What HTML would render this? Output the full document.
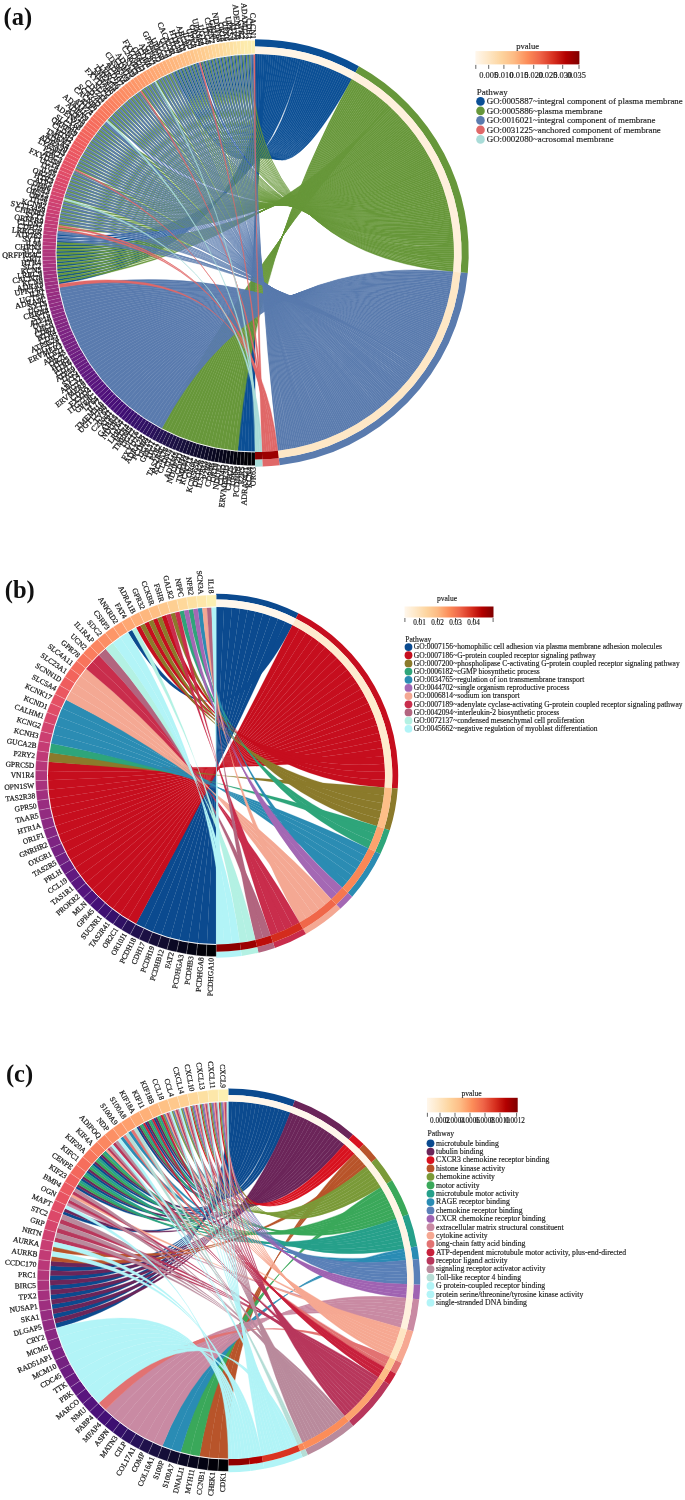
<!DOCTYPE html>
<html lang="en"><head><meta charset="utf-8"><title>Figure</title>
<style>html,body{margin:0;padding:0;background:#fff}svg{display:block}text{white-space:pre}</style></head><body>
<svg width="685" height="1500" viewBox="0 0 685 1500">
<rect width="685" height="1500" fill="#fff"/>
<defs><filter id="soft" x="0" y="0" width="685" height="1500" filterUnits="userSpaceOnUse" color-interpolation-filters="sRGB"><feGaussianBlur stdDeviation="0.6"/></filter></defs>
<g filter="url(#soft)">
<g>
<g>
<g fill="#0b4f95" stroke="#0b4f95" stroke-width="0.42">
<path d="M255 54Q255 253 255 452L251.53 451.97Q255 253 257.3 54.01Z"/>
<path d="M257.3 54.01Q255 253 251.53 451.97L248.06 451.88Q255 253 259.59 54.05Z"/>
<path d="M259.59 54.05Q255 253 248.06 451.88L244.59 451.73Q255 253 261.89 54.12Z"/>
<path d="M261.89 54.12Q255 253 244.59 451.73L241.12 451.52Q255 253 264.18 54.21Z"/>
<path d="M264.18 54.21Q255 253 241.12 451.52L237.66 451.24Q255 253 266.48 54.33Z"/>
<path d="M266.48 54.33Q255 253 58.45 284.13L58.19 282.41Q255 253 268.77 54.48Z"/>
<path d="M268.77 54.48Q255 253 57.94 280.7L57.7 278.97Q255 253 271.06 54.65Z"/>
<path d="M271.06 54.65Q255 253 57.48 277.25L57.28 275.53Q255 253 273.35 54.85Z"/>
<path d="M273.35 54.85Q255 253 57.09 273.8L56.92 272.07Q255 253 275.64 55.07Z"/>
<path d="M275.64 55.07Q255 253 56.76 270.34L56.61 268.61Q255 253 277.92 55.32Z"/>
<path d="M277.92 55.32Q255 253 56.48 266.88L56.37 265.15Q255 253 280.2 55.6Z"/>
<path d="M280.2 55.6Q255 253 56.27 263.41L56.19 261.68Q255 253 282.48 55.91Z"/>
<path d="M282.48 55.91Q255 253 56.12 259.94L56.07 258.21Q255 253 284.75 56.24Z"/>
<path d="M284.75 56.24Q255 253 56.03 256.47L56.01 254.74Q255 253 287.02 56.59Z"/>
<path d="M287.02 56.59Q255 253 56 253L56.01 251.26Q255 253 289.28 56.98Z"/>
<path d="M289.28 56.98Q255 253 56.03 249.53L56.07 247.79Q255 253 291.54 57.38Z"/>
<path d="M291.54 57.38Q255 253 56.12 246.06L56.19 244.32Q255 253 293.8 57.82Z"/>
<path d="M293.8 57.82Q255 253 56.27 242.59L56.37 240.85Q255 253 296.05 58.28Z"/>
<path d="M296.05 58.28Q255 253 56.48 239.12L56.61 237.39Q255 253 298.29 58.77Z"/>
<path d="M298.29 58.77Q255 253 56.76 235.66L56.92 233.93Q255 253 300.53 59.28Z"/>
<path d="M300.53 59.28Q255 253 174.06 71.2L175.12 70.74Q255 253 302.77 59.82Z"/>
<path d="M302.77 59.82Q255 253 177.24 69.82L178.31 69.37Q255 253 304.99 60.38Z"/>
<path d="M304.99 60.38Q255 253 180.45 68.49L181.53 68.06Q255 253 307.21 60.97Z"/>
<path d="M307.21 60.97Q255 253 183.68 67.22L184.77 66.81Q255 253 309.43 61.59Z"/>
<path d="M309.43 61.59Q255 253 186.94 66L188.03 65.61Q255 253 311.63 62.23Z"/>
<path d="M311.63 62.23Q255 253 190.21 64.84L191.31 64.47Q255 253 313.83 62.89Z"/>
<path d="M313.83 62.89Q255 253 193.51 63.74L194.61 63.39Q255 253 316.02 63.59Z"/>
<path d="M316.02 63.59Q255 253 196.82 62.7L197.93 62.36Q255 253 318.2 64.3Z"/>
<path d="M318.2 64.3Q255 253 200.15 61.71L201.26 61.39Q255 253 320.38 65.05Z"/>
<path d="M320.38 65.05Q255 253 203.5 60.78L204.61 60.48Q255 253 322.54 65.81Z"/>
<path d="M322.54 65.81Q255 253 206.86 59.91L207.98 59.63Q255 253 324.7 66.6Z"/>
<path d="M324.7 66.6Q255 253 210.23 59.1L211.36 58.84Q255 253 326.85 67.42Z"/>
<path d="M326.85 67.42Q255 253 213.63 58.35L214.76 58.11Q255 253 328.98 68.26Z"/>
<path d="M328.98 68.26Q255 253 217.03 57.66L218.17 57.44Q255 253 331.11 69.13Z"/>
<path d="M331.11 69.13Q255 253 220.44 57.02L221.58 56.83Q255 253 333.23 70.02Z"/>
<path d="M333.23 70.02Q255 253 223.87 56.45L225.01 56.27Q255 253 335.33 70.94Z"/>
<path d="M335.33 70.94Q255 253 227.3 55.94L228.45 55.78Q255 253 337.43 71.88Z"/>
<path d="M337.43 71.88Q255 253 230.75 55.48L231.9 55.35Q255 253 339.52 72.84Z"/>
<path d="M339.52 72.84Q255 253 234.2 55.09L235.35 54.97Q255 253 341.59 73.83Z"/>
<path d="M341.59 73.83Q255 253 237.66 54.76L238.81 54.66Q255 253 343.65 74.84Z"/>
<path d="M343.65 74.84Q255 253 241.12 54.48L242.27 54.41Q255 253 345.7 75.87Z"/>
<path d="M345.7 75.87Q255 253 244.59 54.27L245.74 54.22Q255 253 347.74 76.93Z"/>
<path d="M347.74 76.93Q255 253 248.06 54.12L249.21 54.08Q255 253 349.77 78.01Z"/>
<path d="M349.77 78.01Q255 253 251.53 54.03L252.68 54.01Q255 253 351.78 79.12Z"/>
</g>
<g fill="#67973a" stroke="#67973a" stroke-width="0.42">
<path d="M351.78 79.12Q255 253 237.66 451.24L234.2 450.91Q255 253 353.53 80.1Z"/>
<path d="M353.53 80.1Q255 253 234.2 450.91L230.75 450.52Q255 253 355.26 81.1Z"/>
<path d="M355.26 81.1Q255 253 230.75 450.52L227.3 450.06Q255 253 356.98 82.12Z"/>
<path d="M356.98 82.12Q255 253 227.3 450.06L223.87 449.55Q255 253 358.7 83.15Z"/>
<path d="M358.7 83.15Q255 253 223.87 449.55L220.44 448.98Q255 253 360.4 84.21Z"/>
<path d="M360.4 84.21Q255 253 220.44 448.98L217.03 448.34Q255 253 362.1 85.28Z"/>
<path d="M362.1 85.28Q255 253 217.03 448.34L213.63 447.65Q255 253 363.78 86.36Z"/>
<path d="M363.78 86.36Q255 253 213.63 447.65L210.23 446.9Q255 253 365.45 87.46Z"/>
<path d="M365.45 87.46Q255 253 210.23 446.9L206.86 446.09Q255 253 367.11 88.58Z"/>
<path d="M367.11 88.58Q255 253 206.86 446.09L203.5 445.22Q255 253 368.76 89.72Z"/>
<path d="M368.76 89.72Q255 253 203.5 445.22L200.15 444.29Q255 253 370.4 90.87Z"/>
<path d="M370.4 90.87Q255 253 200.15 444.29L196.82 443.3Q255 253 372.02 92.04Z"/>
<path d="M372.02 92.04Q255 253 196.82 443.3L193.51 442.26Q255 253 373.63 93.23Z"/>
<path d="M373.63 93.23Q255 253 193.51 442.26L190.21 441.16Q255 253 375.24 94.43Z"/>
<path d="M375.24 94.43Q255 253 190.21 441.16L186.94 440Q255 253 376.83 95.65Z"/>
<path d="M376.83 95.65Q255 253 186.94 440L183.68 438.78Q255 253 378.4 96.88Z"/>
<path d="M378.4 96.88Q255 253 183.68 438.78L180.45 437.51Q255 253 379.97 98.13Z"/>
<path d="M379.97 98.13Q255 253 180.45 437.51L177.24 436.18Q255 253 381.52 99.4Z"/>
<path d="M381.52 99.4Q255 253 177.24 436.18L174.06 434.8Q255 253 383.06 100.68Z"/>
<path d="M383.06 100.68Q255 253 174.06 434.8L170.9 433.36Q255 253 384.58 101.97Z"/>
<path d="M384.58 101.97Q255 253 170.9 433.36L167.76 431.86Q255 253 386.1 103.29Z"/>
<path d="M386.1 103.29Q255 253 167.76 431.86L164.66 430.31Q255 253 387.6 104.61Z"/>
<path d="M387.6 104.61Q255 253 164.66 430.31L161.58 428.71Q255 253 389.08 105.95Z"/>
<path d="M389.08 105.95Q255 253 58.19 282.41L57.94 280.7Q255 253 390.56 107.31Z"/>
<path d="M390.56 107.31Q255 253 57.7 278.97L57.48 277.25Q255 253 392.02 108.68Z"/>
<path d="M392.02 108.68Q255 253 57.28 275.53L57.09 273.8Q255 253 393.46 110.07Z"/>
<path d="M393.46 110.07Q255 253 56.92 272.07L56.76 270.34Q255 253 394.89 111.47Z"/>
<path d="M394.89 111.47Q255 253 56.61 268.61L56.48 266.88Q255 253 396.31 112.88Z"/>
<path d="M396.31 112.88Q255 253 56.37 265.15L56.27 263.41Q255 253 397.71 114.31Z"/>
<path d="M397.71 114.31Q255 253 56.19 261.68L56.12 259.94Q255 253 399.1 115.75Z"/>
<path d="M399.1 115.75Q255 253 56.07 258.21L56.03 256.47Q255 253 400.47 117.21Z"/>
<path d="M400.47 117.21Q255 253 56.01 254.74L56 253Q255 253 401.83 118.68Z"/>
<path d="M401.83 118.68Q255 253 56.01 251.26L56.03 249.53Q255 253 403.18 120.17Z"/>
<path d="M403.18 120.17Q255 253 56.07 247.79L56.12 246.06Q255 253 404.51 121.66Z"/>
<path d="M404.51 121.66Q255 253 56.19 244.32L56.27 242.59Q255 253 405.82 123.18Z"/>
<path d="M405.82 123.18Q255 253 57.48 228.75L57.7 227.03Q255 253 407.12 124.7Z"/>
<path d="M407.12 124.7Q255 253 57.94 225.3L58.19 223.59Q255 253 408.4 126.24Z"/>
<path d="M408.4 126.24Q255 253 58.45 221.87L58.73 220.16Q255 253 409.67 127.79Z"/>
<path d="M409.67 127.79Q255 253 59.02 218.44L59.33 216.74Q255 253 410.92 129.35Z"/>
<path d="M410.92 129.35Q255 253 59.66 215.03L59.99 213.33Q255 253 412.16 130.92Z"/>
<path d="M412.16 130.92Q255 253 60.35 211.63L60.72 209.93Q255 253 413.38 132.51Z"/>
<path d="M413.38 132.51Q255 253 61.1 208.23L61.5 206.54Q255 253 414.58 134.11Z"/>
<path d="M414.58 134.11Q255 253 61.91 204.86L62.34 203.17Q255 253 415.77 135.72Z"/>
<path d="M415.77 135.72Q255 253 62.78 201.5L63.24 199.82Q255 253 416.94 137.35Z"/>
<path d="M416.94 137.35Q255 253 63.71 198.15L64.19 196.48Q255 253 418.1 138.98Z"/>
<path d="M418.1 138.98Q255 253 64.7 194.82L65.21 193.16Q255 253 419.24 140.63Z"/>
<path d="M419.24 140.63Q255 253 65.74 191.51L66.28 189.86Q255 253 420.36 142.29Z"/>
<path d="M420.36 142.29Q255 253 66.84 188.21L67.41 186.57Q255 253 421.46 143.96Z"/>
<path d="M421.46 143.96Q255 253 68 184.94L68.6 183.31Q255 253 422.55 145.64Z"/>
<path d="M422.55 145.64Q255 253 69.22 181.68L69.85 180.07Q255 253 423.63 147.33Z"/>
<path d="M423.63 147.33Q255 253 70.49 178.45L71.15 176.85Q255 253 424.68 149.03Z"/>
<path d="M424.68 149.03Q255 253 71.82 175.24L72.51 173.65Q255 253 425.72 150.74Z"/>
<path d="M425.72 150.74Q255 253 73.2 172.06L73.68 171Q255 253 426.74 152.47Z"/>
<path d="M426.74 152.47Q255 253 74.64 168.9L75.39 167.33Q255 253 427.74 154.2Z"/>
<path d="M427.74 154.2Q255 253 76.14 165.76L76.91 164.21Q255 253 428.73 155.94Z"/>
<path d="M428.73 155.94Q255 253 77.69 162.66L78.48 161.11Q255 253 429.69 157.7Z"/>
<path d="M429.69 157.7Q255 253 79.29 159.58L80.12 158.05Q255 253 430.64 159.46Z"/>
<path d="M430.64 159.46Q255 253 80.95 156.52L81.8 155.01Q255 253 431.58 161.23Z"/>
<path d="M431.58 161.23Q255 253 82.66 153.5L83.54 152Q255 253 432.49 163.01Z"/>
<path d="M432.49 163.01Q255 253 84.42 150.51L85.32 149.02Q255 253 433.39 164.8Z"/>
<path d="M433.39 164.8Q255 253 86.24 147.55L87.17 146.08Q255 253 434.27 166.6Z"/>
<path d="M434.27 166.6Q255 253 88.1 144.62L89.06 143.16Q255 253 435.13 168.41Z"/>
<path d="M435.13 168.41Q255 253 90.02 141.72L91 140.29Q255 253 435.97 170.23Z"/>
<path d="M435.97 170.23Q255 253 91.99 138.86L92.99 137.44Q255 253 436.79 172.05Z"/>
<path d="M436.79 172.05Q255 253 94.01 136.03L95.03 134.63Q255 253 437.6 173.88Z"/>
<path d="M437.6 173.88Q255 253 96.07 133.24L97.12 131.86Q255 253 438.38 175.73Z"/>
<path d="M438.38 175.73Q255 253 98.19 130.48L99.26 129.12Q255 253 439.15 177.57Z"/>
<path d="M439.15 177.57Q255 253 100.35 127.77L101.45 126.42Q255 253 439.9 179.43Z"/>
<path d="M439.9 179.43Q255 253 102.56 125.09L103.68 123.76Q255 253 440.63 181.3Z"/>
<path d="M440.63 181.3Q255 253 107.11 119.84L108.28 118.56Q255 253 441.34 183.17Z"/>
<path d="M441.34 183.17Q255 253 109.46 117.28L110.65 116.02Q255 253 442.04 185.05Z"/>
<path d="M442.04 185.05Q255 253 111.85 114.76L113.06 113.52Q255 253 442.71 186.93Z"/>
<path d="M442.71 186.93Q255 253 114.29 112.29L115.52 111.06Q255 253 443.37 188.82Z"/>
<path d="M443.37 188.82Q255 253 116.76 109.85L118.02 108.65Q255 253 444 190.72Z"/>
<path d="M444 190.72Q255 253 119.28 107.46L120.56 106.28Q255 253 444.62 192.63Z"/>
<path d="M444.62 192.63Q255 253 121.84 105.11L123.14 103.96Q255 253 445.22 194.54Z"/>
<path d="M445.22 194.54Q255 253 124.44 102.81L125.76 101.68Q255 253 445.8 196.45Z"/>
<path d="M445.8 196.45Q255 253 127.09 100.56L128.42 99.45Q255 253 446.36 198.38Z"/>
<path d="M446.36 198.38Q255 253 129.77 98.35L131.12 97.26Q255 253 446.9 200.31Z"/>
<path d="M446.9 200.31Q255 253 132.48 96.19L133.86 95.12Q255 253 447.42 202.24Z"/>
<path d="M447.42 202.24Q255 253 135.24 94.07L136.63 93.03Q255 253 447.92 204.18Z"/>
<path d="M447.92 204.18Q255 253 138.03 92.01L138.97 91.33Q255 253 448.4 206.12Z"/>
<path d="M448.4 206.12Q255 253 140.86 89.99L142.29 89Q255 253 448.86 208.07Z"/>
<path d="M448.86 208.07Q255 253 143.72 88.02L145.16 87.06Q255 253 449.3 210.02Z"/>
<path d="M449.3 210.02Q255 253 146.62 86.1L148.08 85.17Q255 253 449.73 211.98Z"/>
<path d="M449.73 211.98Q255 253 149.55 84.24L151.02 83.32Q255 253 450.13 213.94Z"/>
<path d="M450.13 213.94Q255 253 152.51 82.42L153.5 81.83Q255 253 450.51 215.91Z"/>
<path d="M450.51 215.91Q255 253 155.5 80.66L157.01 79.8Q255 253 450.88 217.88Z"/>
<path d="M450.88 217.88Q255 253 158.52 78.95L160.05 78.12Q255 253 451.22 219.85Z"/>
<path d="M451.22 219.85Q255 253 161.58 77.29L163.11 76.48Q255 253 451.54 221.82Z"/>
<path d="M451.54 221.82Q255 253 164.66 75.69L166.21 74.91Q255 253 451.85 223.8Z"/>
<path d="M451.85 223.8Q255 253 167.76 74.14L169.33 73.39Q255 253 452.13 225.79Z"/>
<path d="M452.13 225.79Q255 253 170.9 72.64L172.48 71.92Q255 253 452.39 227.77Z"/>
<path d="M452.39 227.77Q255 253 175.12 70.74L176.18 70.27Q255 253 452.64 229.76Z"/>
<path d="M452.64 229.76Q255 253 178.31 69.37L179.38 68.93Q255 253 452.86 231.75Z"/>
<path d="M452.86 231.75Q255 253 181.53 68.06L182.61 67.64Q255 253 453.07 233.74Z"/>
<path d="M453.07 233.74Q255 253 184.77 66.81L185.85 66.4Q255 253 453.25 235.73Z"/>
<path d="M453.25 235.73Q255 253 188.03 65.61L189.12 65.22Q255 253 453.41 237.73Z"/>
<path d="M453.41 237.73Q255 253 191.31 64.47L192.41 64.1Q255 253 453.56 239.73Z"/>
<path d="M453.56 239.73Q255 253 194.61 63.39L195.71 63.04Q255 253 453.68 241.73Z"/>
<path d="M453.68 241.73Q255 253 201.26 61.39L202.38 61.08Q255 253 453.78 243.73Z"/>
<path d="M453.78 243.73Q255 253 204.61 60.48L205.74 60.19Q255 253 453.87 245.73Z"/>
<path d="M453.87 245.73Q255 253 207.98 59.63L209.11 59.36Q255 253 453.93 247.73Z"/>
<path d="M453.93 247.73Q255 253 211.36 58.84L212.49 58.59Q255 253 453.97 249.73Z"/>
<path d="M453.97 249.73Q255 253 214.76 58.11L215.89 57.88Q255 253 454 251.73Z"/>
<path d="M454 251.73Q255 253 218.17 57.44L219.3 57.23Q255 253 454 253.73Z"/>
<path d="M454 253.73Q255 253 221.58 56.83L222.73 56.63Q255 253 453.98 255.74Z"/>
<path d="M453.98 255.74Q255 253 225.01 56.27L226.16 56.1Q255 253 453.94 257.74Z"/>
<path d="M453.94 257.74Q255 253 228.45 55.78L229.6 55.63Q255 253 453.89 259.74Z"/>
<path d="M453.89 259.74Q255 253 231.9 55.35L233.05 55.21Q255 253 453.81 261.74Z"/>
<path d="M453.81 261.74Q255 253 235.35 54.97L236.5 54.86Q255 253 453.71 263.74Z"/>
<path d="M453.71 263.74Q255 253 238.81 54.66L239.96 54.57Q255 253 453.59 265.74Z"/>
<path d="M453.59 265.74Q255 253 242.27 54.41L243.43 54.34Q255 253 453.45 267.74Z"/>
<path d="M453.45 267.74Q255 253 245.74 54.22L246.9 54.16Q255 253 453.3 269.73Z"/>
<path d="M453.3 269.73Q255 253 249.21 54.08L250.37 54.05Q255 253 453.12 271.73Z"/>
</g>
<g fill="#5a7bae" stroke="#5a7bae" stroke-width="0.42">
<path d="M453.12 271.73Q255 253 161.58 428.71L158.52 427.05Q255 253 452.92 273.7Z"/>
<path d="M452.92 273.7Q255 253 158.52 427.05L155.5 425.34Q255 253 452.71 275.66Z"/>
<path d="M452.71 275.66Q255 253 155.5 425.34L152.51 423.58Q255 253 452.47 277.62Z"/>
<path d="M452.47 277.62Q255 253 152.51 423.58L149.55 421.76Q255 253 452.22 279.59Z"/>
<path d="M452.22 279.59Q255 253 149.55 421.76L146.62 419.9Q255 253 451.94 281.54Z"/>
<path d="M451.94 281.54Q255 253 146.62 419.9L143.72 417.98Q255 253 451.65 283.5Z"/>
<path d="M451.65 283.5Q255 253 143.72 417.98L140.86 416.01Q255 253 451.34 285.45Z"/>
<path d="M451.34 285.45Q255 253 140.86 416.01L138.03 413.99Q255 253 451 287.4Z"/>
<path d="M451 287.4Q255 253 138.03 413.99L135.24 411.93Q255 253 450.65 289.35Z"/>
<path d="M450.65 289.35Q255 253 135.24 411.93L132.48 409.81Q255 253 450.28 291.29Z"/>
<path d="M450.28 291.29Q255 253 132.48 409.81L129.77 407.65Q255 253 449.89 293.23Z"/>
<path d="M449.89 293.23Q255 253 129.77 407.65L127.09 405.44Q255 253 449.48 295.16Z"/>
<path d="M449.48 295.16Q255 253 127.09 405.44L124.44 403.19Q255 253 449.05 297.09Z"/>
<path d="M449.05 297.09Q255 253 124.44 403.19L121.84 400.89Q255 253 448.61 299.02Z"/>
<path d="M448.61 299.02Q255 253 121.84 400.89L119.28 398.54Q255 253 448.14 300.94Z"/>
<path d="M448.14 300.94Q255 253 119.28 398.54L116.76 396.15Q255 253 447.65 302.86Z"/>
<path d="M447.65 302.86Q255 253 116.76 396.15L114.29 393.71Q255 253 447.15 304.77Z"/>
<path d="M447.15 304.77Q255 253 114.29 393.71L111.85 391.24Q255 253 446.62 306.68Z"/>
<path d="M446.62 306.68Q255 253 111.85 391.24L109.46 388.72Q255 253 446.08 308.58Z"/>
<path d="M446.08 308.58Q255 253 109.46 388.72L107.11 386.16Q255 253 445.52 310.47Z"/>
<path d="M445.52 310.47Q255 253 107.11 386.16L104.81 383.56Q255 253 444.94 312.36Z"/>
<path d="M444.94 312.36Q255 253 104.81 383.56L102.56 380.91Q255 253 444.34 314.25Z"/>
<path d="M444.34 314.25Q255 253 102.56 380.91L100.35 378.23Q255 253 443.72 316.13Z"/>
<path d="M443.72 316.13Q255 253 100.35 378.23L98.19 375.52Q255 253 443.09 318Z"/>
<path d="M443.09 318Q255 253 98.19 375.52L96.07 372.76Q255 253 442.43 319.86Z"/>
<path d="M442.43 319.86Q255 253 96.07 372.76L94.01 369.97Q255 253 441.76 321.72Z"/>
<path d="M441.76 321.72Q255 253 94.01 369.97L91.99 367.14Q255 253 441.06 323.58Z"/>
<path d="M441.06 323.58Q255 253 91.99 367.14L90.02 364.28Q255 253 440.35 325.42Z"/>
<path d="M440.35 325.42Q255 253 90.02 364.28L88.1 361.38Q255 253 439.63 327.26Z"/>
<path d="M439.63 327.26Q255 253 88.1 361.38L86.24 358.45Q255 253 438.88 329.09Z"/>
<path d="M438.88 329.09Q255 253 86.24 358.45L84.42 355.49Q255 253 438.11 330.91Z"/>
<path d="M438.11 330.91Q255 253 84.42 355.49L82.66 352.5Q255 253 437.33 332.73Z"/>
<path d="M437.33 332.73Q255 253 82.66 352.5L80.95 349.48Q255 253 436.53 334.54Z"/>
<path d="M436.53 334.54Q255 253 80.95 349.48L79.29 346.42Q255 253 435.71 336.34Z"/>
<path d="M435.71 336.34Q255 253 79.29 346.42L77.69 343.34Q255 253 434.87 338.13Z"/>
<path d="M434.87 338.13Q255 253 77.69 343.34L76.14 340.24Q255 253 434.02 339.91Z"/>
<path d="M434.02 339.91Q255 253 76.14 340.24L74.64 337.1Q255 253 433.15 341.69Z"/>
<path d="M433.15 341.69Q255 253 74.64 337.1L73.2 333.94Q255 253 432.26 343.45Z"/>
<path d="M432.26 343.45Q255 253 73.2 333.94L71.82 330.76Q255 253 431.35 345.21Z"/>
<path d="M431.35 345.21Q255 253 71.82 330.76L70.49 327.55Q255 253 430.42 346.96Z"/>
<path d="M430.42 346.96Q255 253 70.49 327.55L69.22 324.32Q255 253 429.48 348.7Z"/>
<path d="M429.48 348.7Q255 253 69.22 324.32L68 321.06Q255 253 428.52 350.42Z"/>
<path d="M428.52 350.42Q255 253 68 321.06L66.84 317.79Q255 253 427.54 352.14Z"/>
<path d="M427.54 352.14Q255 253 66.84 317.79L65.74 314.49Q255 253 426.55 353.85Z"/>
<path d="M426.55 353.85Q255 253 65.74 314.49L64.7 311.18Q255 253 425.54 355.55Z"/>
<path d="M425.54 355.55Q255 253 64.7 311.18L63.71 307.85Q255 253 424.51 357.24Z"/>
<path d="M424.51 357.24Q255 253 63.71 307.85L62.78 304.5Q255 253 423.47 358.92Z"/>
<path d="M423.47 358.92Q255 253 62.78 304.5L61.91 301.14Q255 253 422.41 360.59Z"/>
<path d="M422.41 360.59Q255 253 61.91 301.14L61.1 297.77Q255 253 421.33 362.25Z"/>
<path d="M421.33 362.25Q255 253 61.1 297.77L60.35 294.37Q255 253 420.24 363.9Z"/>
<path d="M420.24 363.9Q255 253 60.35 294.37L59.66 290.97Q255 253 419.13 365.53Z"/>
<path d="M419.13 365.53Q255 253 59.66 290.97L59.02 287.56Q255 253 418 367.16Z"/>
<path d="M418 367.16Q255 253 56.37 240.85L56.48 239.12Q255 253 416.86 368.77Z"/>
<path d="M416.86 368.77Q255 253 56.61 237.39L56.76 235.66Q255 253 415.7 370.37Z"/>
<path d="M415.7 370.37Q255 253 56.92 233.93L57.09 232.2Q255 253 414.52 371.97Z"/>
<path d="M414.52 371.97Q255 253 57.09 232.2L57.28 230.47Q255 253 413.33 373.55Z"/>
<path d="M413.33 373.55Q255 253 58.19 223.59L58.45 221.87Q255 253 412.13 375.11Z"/>
<path d="M412.13 375.11Q255 253 58.73 220.16L59.02 218.44Q255 253 410.91 376.67Z"/>
<path d="M410.91 376.67Q255 253 59.33 216.74L59.66 215.03Q255 253 409.67 378.21Z"/>
<path d="M409.67 378.21Q255 253 59.99 213.33L60.35 211.63Q255 253 408.42 379.74Z"/>
<path d="M408.42 379.74Q255 253 60.72 209.93L61.1 208.23Q255 253 407.15 381.26Z"/>
<path d="M407.15 381.26Q255 253 61.5 206.54L61.91 204.86Q255 253 405.87 382.77Z"/>
<path d="M405.87 382.77Q255 253 62.34 203.17L62.78 201.5Q255 253 404.57 384.26Z"/>
<path d="M404.57 384.26Q255 253 64.19 196.48L64.7 194.82Q255 253 403.26 385.74Z"/>
<path d="M403.26 385.74Q255 253 65.21 193.16L65.74 191.51Q255 253 401.94 387.2Z"/>
<path d="M401.94 387.2Q255 253 66.28 189.86L66.84 188.21Q255 253 400.59 388.66Z"/>
<path d="M400.59 388.66Q255 253 67.41 186.57L68 184.94Q255 253 399.24 390.1Z"/>
<path d="M399.24 390.1Q255 253 68.6 183.31L69.22 181.68Q255 253 397.87 391.52Z"/>
<path d="M397.87 391.52Q255 253 69.85 180.07L70.49 178.45Q255 253 396.49 392.94Z"/>
<path d="M396.49 392.94Q255 253 71.15 176.85L71.82 175.24Q255 253 395.09 394.34Z"/>
<path d="M395.09 394.34Q255 253 72.51 173.65L73.2 172.06Q255 253 393.68 395.72Z"/>
<path d="M393.68 395.72Q255 253 73.68 171L74.16 169.95Q255 253 392.25 397.09Z"/>
<path d="M392.25 397.09Q255 253 75.39 167.33L76.14 165.76Q255 253 390.81 398.45Z"/>
<path d="M390.81 398.45Q255 253 76.91 164.21L77.69 162.66Q255 253 389.36 399.79Z"/>
<path d="M389.36 399.79Q255 253 78.48 161.11L79.29 159.58Q255 253 387.9 401.12Z"/>
<path d="M387.9 401.12Q255 253 80.12 158.05L80.95 156.52Q255 253 386.42 402.43Z"/>
<path d="M386.42 402.43Q255 253 81.8 155.01L82.66 153.5Q255 253 384.93 403.73Z"/>
<path d="M384.93 403.73Q255 253 83.54 152L84.42 150.51Q255 253 383.42 405.02Z"/>
<path d="M383.42 405.02Q255 253 85.32 149.02L86.24 147.55Q255 253 381.91 406.28Z"/>
<path d="M381.91 406.28Q255 253 87.17 146.08L88.1 144.62Q255 253 380.38 407.54Z"/>
<path d="M380.38 407.54Q255 253 89.06 143.16L90.02 141.72Q255 253 378.83 408.78Z"/>
<path d="M378.83 408.78Q255 253 91 140.29L91.99 138.86Q255 253 377.28 410Z"/>
<path d="M377.28 410Q255 253 92.99 137.44L94.01 136.03Q255 253 375.71 411.21Z"/>
<path d="M375.71 411.21Q255 253 95.03 134.63L96.07 133.24Q255 253 374.14 412.4Z"/>
<path d="M374.14 412.4Q255 253 97.12 131.86L98.19 130.48Q255 253 372.55 413.57Z"/>
<path d="M372.55 413.57Q255 253 99.26 129.12L100.35 127.77Q255 253 370.95 414.73Z"/>
<path d="M370.95 414.73Q255 253 101.45 126.42L102.56 125.09Q255 253 369.33 415.88Z"/>
<path d="M369.33 415.88Q255 253 103.68 123.76L104.81 122.44Q255 253 367.71 417.01Z"/>
<path d="M367.71 417.01Q255 253 104.81 122.44L105.96 121.14Q255 253 366.07 418.12Z"/>
<path d="M366.07 418.12Q255 253 108.28 118.56L109.46 117.28Q255 253 364.43 419.21Z"/>
<path d="M364.43 419.21Q255 253 110.65 116.02L111.85 114.76Q255 253 362.77 420.29Z"/>
<path d="M362.77 420.29Q255 253 113.06 113.52L114.29 112.29Q255 253 361.1 421.35Z"/>
<path d="M361.1 421.35Q255 253 115.52 111.06L116.76 109.85Q255 253 359.42 422.4Z"/>
<path d="M359.42 422.4Q255 253 118.02 108.65L119.28 107.46Q255 253 357.74 423.43Z"/>
<path d="M357.74 423.43Q255 253 120.56 106.28L121.84 105.11Q255 253 356.04 424.44Z"/>
<path d="M356.04 424.44Q255 253 123.14 103.96L124.44 102.81Q255 253 354.33 425.44Z"/>
<path d="M354.33 425.44Q255 253 125.76 101.68L127.09 100.56Q255 253 352.61 426.42Z"/>
<path d="M352.61 426.42Q255 253 128.42 99.45L129.77 98.35Q255 253 350.88 427.38Z"/>
<path d="M350.88 427.38Q255 253 131.12 97.26L132.48 96.19Q255 253 349.14 428.32Z"/>
<path d="M349.14 428.32Q255 253 133.86 95.12L135.24 94.07Q255 253 347.4 429.25Z"/>
<path d="M347.4 429.25Q255 253 136.63 93.03L138.03 92.01Q255 253 345.64 430.16Z"/>
<path d="M345.64 430.16Q255 253 138.97 91.33L139.91 90.66Q255 253 343.88 431.05Z"/>
<path d="M343.88 431.05Q255 253 142.29 89L143.72 88.02Q255 253 342.1 431.92Z"/>
<path d="M342.1 431.92Q255 253 145.16 87.06L146.62 86.1Q255 253 340.32 432.78Z"/>
<path d="M340.32 432.78Q255 253 148.08 85.17L149.55 84.24Q255 253 338.53 433.62Z"/>
<path d="M338.53 433.62Q255 253 151.02 83.32L152.51 82.42Q255 253 336.73 434.44Z"/>
<path d="M336.73 434.44Q255 253 153.5 81.83L154.5 81.24Q255 253 334.92 435.24Z"/>
<path d="M334.92 435.24Q255 253 157.01 79.8L158.52 78.95Q255 253 333.11 436.03Z"/>
<path d="M333.11 436.03Q255 253 160.05 78.12L161.58 77.29Q255 253 331.29 436.8Z"/>
<path d="M331.29 436.8Q255 253 163.11 76.48L164.66 75.69Q255 253 329.46 437.55Z"/>
<path d="M329.46 437.55Q255 253 166.21 74.91L167.76 74.14Q255 253 327.62 438.28Z"/>
<path d="M327.62 438.28Q255 253 169.33 73.39L170.9 72.64Q255 253 325.78 438.99Z"/>
<path d="M325.78 438.99Q255 253 172.48 71.92L174.06 71.2Q255 253 323.92 439.68Z"/>
<path d="M323.92 439.68Q255 253 176.18 70.27L177.24 69.82Q255 253 322.07 440.36Z"/>
<path d="M322.07 440.36Q255 253 179.38 68.93L180.45 68.49Q255 253 320.2 441.02Z"/>
<path d="M320.2 441.02Q255 253 182.61 67.64L183.68 67.22Q255 253 318.33 441.65Z"/>
<path d="M318.33 441.65Q255 253 185.85 66.4L186.94 66Q255 253 316.45 442.27Z"/>
<path d="M316.45 442.27Q255 253 189.12 65.22L190.21 64.84Q255 253 314.57 442.88Z"/>
<path d="M314.57 442.88Q255 253 192.41 64.1L193.51 63.74Q255 253 312.68 443.46Z"/>
<path d="M312.68 443.46Q255 253 195.71 63.04L196.82 62.7Q255 253 310.78 444.02Z"/>
<path d="M310.78 444.02Q255 253 197.93 62.36L199.04 62.03Q255 253 308.88 444.57Z"/>
<path d="M308.88 444.57Q255 253 202.38 61.08L203.5 60.78Q255 253 306.98 445.09Z"/>
<path d="M306.98 445.09Q255 253 205.74 60.19L206.86 59.91Q255 253 305.06 445.6Z"/>
<path d="M305.06 445.6Q255 253 209.11 59.36L210.23 59.1Q255 253 303.15 446.09Z"/>
<path d="M303.15 446.09Q255 253 212.49 58.59L213.63 58.35Q255 253 301.23 446.56Z"/>
<path d="M301.23 446.56Q255 253 215.89 57.88L217.03 57.66Q255 253 299.3 447.01Z"/>
<path d="M299.3 447.01Q255 253 219.3 57.23L220.44 57.02Q255 253 297.37 447.44Z"/>
<path d="M297.37 447.44Q255 253 222.73 56.63L223.87 56.45Q255 253 295.44 447.85Z"/>
<path d="M295.44 447.85Q255 253 226.16 56.1L227.3 55.94Q255 253 293.5 448.24Z"/>
<path d="M293.5 448.24Q255 253 229.6 55.63L230.75 55.48Q255 253 291.56 448.61Z"/>
<path d="M291.56 448.61Q255 253 233.05 55.21L234.2 55.09Q255 253 289.61 448.97Z"/>
<path d="M289.61 448.97Q255 253 236.5 54.86L237.66 54.76Q255 253 287.66 449.3Z"/>
<path d="M287.66 449.3Q255 253 239.96 54.57L241.12 54.48Q255 253 285.71 449.62Z"/>
<path d="M285.71 449.62Q255 253 243.43 54.34L244.59 54.27Q255 253 283.75 449.91Z"/>
<path d="M283.75 449.91Q255 253 246.9 54.16L248.06 54.12Q255 253 281.8 450.19Z"/>
<path d="M281.8 450.19Q255 253 250.37 54.05L251.53 54.03Q255 253 279.84 450.44Z"/>
<path d="M279.84 450.44Q255 253 252.68 54.01L253.84 54Q255 253 277.87 450.68Z"/>
</g>
<g fill="#e06868" stroke="#e06868" stroke-width="0.42">
<path d="M277.87 450.68Q255 253 59.02 287.56L58.45 284.13Q255 253 275.6 450.93Z"/>
<path d="M275.6 450.93Q255 253 57.28 230.47L57.48 228.75Q255 253 273.33 451.15Z"/>
<path d="M273.33 451.15Q255 253 57.7 227.03L57.94 225.3Q255 253 271.06 451.35Z"/>
<path d="M271.06 451.35Q255 253 74.16 169.95L74.64 168.9Q255 253 268.78 451.52Z"/>
<path d="M268.78 451.52Q255 253 139.91 90.66L140.86 89.99Q255 253 266.5 451.67Z"/>
<path d="M266.5 451.67Q255 253 199.04 62.03L200.15 61.71Q255 253 264.23 451.79Z"/>
<path d="M264.23 451.79Q255 253 253.84 54L255 54Q255 253 261.94 451.88Z"/>
</g>
<g fill="#a9dcd8" stroke="#a9dcd8" stroke-width="0.42">
<path d="M261.94 451.88Q255 253 63.24 199.82L63.71 198.15Q255 253 259.63 451.95Z"/>
<path d="M259.63 451.95Q255 253 105.96 121.14L107.11 119.84Q255 253 257.32 451.99Z"/>
<path d="M257.32 451.99Q255 253 154.5 81.24L155.5 80.66Q255 253 255 452Z"/>
</g>
</g>
<path d="M255 39.3A213.7 213.7 0 0 1 358.93 66.27L355.43 72.57A206.5 206.5 0 0 0 255 46.5Z" fill="#0b4f95"/>
<path d="M255 46.5A206.5 206.5 0 0 1 355.43 72.57L351.78 79.12A199 199 0 0 0 255 54Z" fill="#fff5e6"/>
<path d="M358.93 66.27A213.7 213.7 0 0 1 467.75 273.11L460.58 272.43A206.5 206.5 0 0 0 355.43 72.57Z" fill="#67973a"/>
<path d="M355.43 72.57A206.5 206.5 0 0 1 460.58 272.43L453.12 271.73A199 199 0 0 0 351.78 79.12Z" fill="#fff0dc"/>
<path d="M467.75 273.11A213.7 213.7 0 0 1 279.56 465.28L278.73 458.13A206.5 206.5 0 0 0 460.58 272.43Z" fill="#5a7bae"/>
<path d="M460.58 272.43A206.5 206.5 0 0 1 278.73 458.13L277.87 450.68A199 199 0 0 0 453.12 271.73Z" fill="#fee7c6"/>
<path d="M279.56 465.28A213.7 213.7 0 0 1 262.46 466.57L262.21 459.37A206.5 206.5 0 0 0 278.73 458.13Z" fill="#e06868"/>
<path d="M278.73 458.13A206.5 206.5 0 0 1 262.21 459.37L261.94 451.88A199 199 0 0 0 277.87 450.68Z" fill="#9c0000"/>
<path d="M262.46 466.57A213.7 213.7 0 0 1 255 466.7L255 459.5A206.5 206.5 0 0 0 262.21 459.37Z" fill="#a9dcd8"/>
<path d="M262.21 459.37A206.5 206.5 0 0 1 255 459.5L255 452A199 199 0 0 0 261.94 451.88Z" fill="#8b0000"/>
<g stroke="#fff" stroke-width="0.25" stroke-opacity="0.3">
<path d="M255 40.4A212.6 212.6 0 0 0 251.29 40.43L251.53 54.03A199 199 0 0 1 255 54Z" fill="#fcf0b2"/>
<path d="M251.29 40.43A212.6 212.6 0 0 0 247.58 40.53L248.06 54.12A199 199 0 0 1 251.53 54.03Z" fill="#fcecae"/>
<path d="M247.58 40.53A212.6 212.6 0 0 0 243.87 40.69L244.59 54.27A199 199 0 0 1 248.06 54.12Z" fill="#fdebac"/>
<path d="M243.87 40.69A212.6 212.6 0 0 0 240.17 40.92L241.12 54.48A199 199 0 0 1 244.59 54.27Z" fill="#fde9aa"/>
<path d="M240.17 40.92A212.6 212.6 0 0 0 236.47 41.21L237.66 54.76A199 199 0 0 1 241.12 54.48Z" fill="#fde5a7"/>
<path d="M236.47 41.21A212.6 212.6 0 0 0 232.78 41.56L234.2 55.09A199 199 0 0 1 237.66 54.76Z" fill="#fde3a5"/>
<path d="M232.78 41.56A212.6 212.6 0 0 0 229.09 41.98L230.75 55.48A199 199 0 0 1 234.2 55.09Z" fill="#fde0a1"/>
<path d="M229.09 41.98A212.6 212.6 0 0 0 225.41 42.47L227.3 55.94A199 199 0 0 1 230.75 55.48Z" fill="#fddea0"/>
<path d="M225.41 42.47A212.6 212.6 0 0 0 221.74 43.02L223.87 56.45A199 199 0 0 1 227.3 55.94Z" fill="#fddc9e"/>
<path d="M221.74 43.02A212.6 212.6 0 0 0 218.08 43.63L220.44 57.02A199 199 0 0 1 223.87 56.45Z" fill="#fed89a"/>
<path d="M218.08 43.63A212.6 212.6 0 0 0 214.43 44.31L217.03 57.66A199 199 0 0 1 220.44 57.02Z" fill="#fed799"/>
<path d="M214.43 44.31A212.6 212.6 0 0 0 210.8 45.05L213.63 58.35A199 199 0 0 1 217.03 57.66Z" fill="#fed597"/>
<path d="M210.8 45.05A212.6 212.6 0 0 0 207.18 45.85L210.23 59.1A199 199 0 0 1 213.63 58.35Z" fill="#fed194"/>
<path d="M207.18 45.85A212.6 212.6 0 0 0 203.57 46.72L206.86 59.91A199 199 0 0 1 210.23 59.1Z" fill="#fecf92"/>
<path d="M203.57 46.72A212.6 212.6 0 0 0 199.98 47.64L203.5 60.78A199 199 0 0 1 206.86 59.91Z" fill="#fecc8f"/>
<path d="M199.98 47.64A212.6 212.6 0 0 0 196.4 48.64L200.15 61.71A199 199 0 0 1 203.5 60.78Z" fill="#feca8d"/>
<path d="M196.4 48.64A212.6 212.6 0 0 0 192.84 49.69L196.82 62.7A199 199 0 0 1 200.15 61.71Z" fill="#fec88c"/>
<path d="M192.84 49.69A212.6 212.6 0 0 0 189.3 50.81L193.51 63.74A199 199 0 0 1 196.82 62.7Z" fill="#fec488"/>
<path d="M189.3 50.81A212.6 212.6 0 0 0 185.78 51.98L190.21 64.84A199 199 0 0 1 193.51 63.74Z" fill="#fec287"/>
<path d="M185.78 51.98A212.6 212.6 0 0 0 182.29 53.22L186.94 66A199 199 0 0 1 190.21 64.84Z" fill="#febf84"/>
<path d="M182.29 53.22A212.6 212.6 0 0 0 178.81 54.52L183.68 67.22A199 199 0 0 1 186.94 66Z" fill="#febd82"/>
<path d="M178.81 54.52A212.6 212.6 0 0 0 175.36 55.88L180.45 68.49A199 199 0 0 1 183.68 67.22Z" fill="#febb81"/>
<path d="M175.36 55.88A212.6 212.6 0 0 0 171.93 57.3L177.24 69.82A199 199 0 0 1 180.45 68.49Z" fill="#feb77e"/>
<path d="M171.93 57.3A212.6 212.6 0 0 0 168.53 58.78L174.06 71.2A199 199 0 0 1 177.24 69.82Z" fill="#feb67c"/>
<path d="M168.53 58.78A212.6 212.6 0 0 0 165.15 60.32L170.9 72.64A199 199 0 0 1 174.06 71.2Z" fill="#feb47b"/>
<path d="M165.15 60.32A212.6 212.6 0 0 0 161.8 61.92L167.76 74.14A199 199 0 0 1 170.9 72.64Z" fill="#feb078"/>
<path d="M161.8 61.92A212.6 212.6 0 0 0 158.48 63.57L164.66 75.69A199 199 0 0 1 167.76 74.14Z" fill="#feae77"/>
<path d="M158.48 63.57A212.6 212.6 0 0 0 155.19 65.29L161.58 77.29A199 199 0 0 1 164.66 75.69Z" fill="#feaa74"/>
<path d="M155.19 65.29A212.6 212.6 0 0 0 151.93 67.06L158.52 78.95A199 199 0 0 1 161.58 77.29Z" fill="#fea973"/>
<path d="M151.93 67.06A212.6 212.6 0 0 0 148.7 68.88L155.5 80.66A199 199 0 0 1 158.52 78.95Z" fill="#fea772"/>
<path d="M148.7 68.88A212.6 212.6 0 0 0 145.5 70.77L152.51 82.42A199 199 0 0 1 155.5 80.66Z" fill="#fea36f"/>
<path d="M145.5 70.77A212.6 212.6 0 0 0 142.34 72.7L149.55 84.24A199 199 0 0 1 152.51 82.42Z" fill="#fea16e"/>
<path d="M142.34 72.7A212.6 212.6 0 0 0 139.21 74.7L146.62 86.1A199 199 0 0 1 149.55 84.24Z" fill="#fe9d6c"/>
<path d="M139.21 74.7A212.6 212.6 0 0 0 136.12 76.75L143.72 88.02A199 199 0 0 1 146.62 86.1Z" fill="#fd9b6b"/>
<path d="M136.12 76.75A212.6 212.6 0 0 0 133.06 78.85L140.86 89.99A199 199 0 0 1 143.72 88.02Z" fill="#fd9a6a"/>
<path d="M133.06 78.85A212.6 212.6 0 0 0 130.04 81L138.03 92.01A199 199 0 0 1 140.86 89.99Z" fill="#fd9668"/>
<path d="M130.04 81A212.6 212.6 0 0 0 127.05 83.21L135.24 94.07A199 199 0 0 1 138.03 92.01Z" fill="#fd9467"/>
<path d="M127.05 83.21A212.6 212.6 0 0 0 124.11 85.47L132.48 96.19A199 199 0 0 1 135.24 94.07Z" fill="#fc9065"/>
<path d="M124.11 85.47A212.6 212.6 0 0 0 121.21 87.78L129.77 98.35A199 199 0 0 1 132.48 96.19Z" fill="#fc8e64"/>
<path d="M121.21 87.78A212.6 212.6 0 0 0 118.34 90.14L127.09 100.56A199 199 0 0 1 129.77 98.35Z" fill="#fc8c63"/>
<path d="M118.34 90.14A212.6 212.6 0 0 0 115.52 92.55L124.44 102.81A199 199 0 0 1 127.09 100.56Z" fill="#fc8961"/>
<path d="M115.52 92.55A212.6 212.6 0 0 0 112.74 95.01L121.84 105.11A199 199 0 0 1 124.44 102.81Z" fill="#fb8761"/>
<path d="M112.74 95.01A212.6 212.6 0 0 0 110.01 97.51L119.28 107.46A199 199 0 0 1 121.84 105.11Z" fill="#fb8560"/>
<path d="M110.01 97.51A212.6 212.6 0 0 0 107.32 100.07L116.76 109.85A199 199 0 0 1 119.28 107.46Z" fill="#fa815f"/>
<path d="M107.32 100.07A212.6 212.6 0 0 0 104.67 102.67L114.29 112.29A199 199 0 0 1 116.76 109.85Z" fill="#fa7f5e"/>
<path d="M104.67 102.67A212.6 212.6 0 0 0 102.07 105.32L111.85 114.76A199 199 0 0 1 114.29 112.29Z" fill="#f97b5d"/>
<path d="M102.07 105.32A212.6 212.6 0 0 0 99.51 108.01L109.46 117.28A199 199 0 0 1 111.85 114.76Z" fill="#f9795d"/>
<path d="M99.51 108.01A212.6 212.6 0 0 0 97.01 110.74L107.11 119.84A199 199 0 0 1 109.46 117.28Z" fill="#f9785d"/>
<path d="M97.01 110.74A212.6 212.6 0 0 0 94.55 113.52L104.81 122.44A199 199 0 0 1 107.11 119.84Z" fill="#f8745c"/>
<path d="M94.55 113.52A212.6 212.6 0 0 0 92.14 116.34L102.56 125.09A199 199 0 0 1 104.81 122.44Z" fill="#f7725c"/>
<path d="M92.14 116.34A212.6 212.6 0 0 0 89.78 119.21L100.35 127.77A199 199 0 0 1 102.56 125.09Z" fill="#f66e5c"/>
<path d="M89.78 119.21A212.6 212.6 0 0 0 87.47 122.11L98.19 130.48A199 199 0 0 1 100.35 127.77Z" fill="#f66c5c"/>
<path d="M87.47 122.11A212.6 212.6 0 0 0 85.21 125.05L96.07 133.24A199 199 0 0 1 98.19 130.48Z" fill="#f56b5c"/>
<path d="M85.21 125.05A212.6 212.6 0 0 0 83 128.04L94.01 136.03A199 199 0 0 1 96.07 133.24Z" fill="#f4675c"/>
<path d="M83 128.04A212.6 212.6 0 0 0 80.85 131.06L91.99 138.86A199 199 0 0 1 94.01 136.03Z" fill="#f3655c"/>
<path d="M80.85 131.06A212.6 212.6 0 0 0 78.75 134.12L90.02 141.72A199 199 0 0 1 91.99 138.86Z" fill="#f2645c"/>
<path d="M78.75 134.12A212.6 212.6 0 0 0 76.7 137.21L88.1 144.62A199 199 0 0 1 90.02 141.72Z" fill="#f1605d"/>
<path d="M76.7 137.21A212.6 212.6 0 0 0 74.7 140.34L86.24 147.55A199 199 0 0 1 88.1 144.62Z" fill="#f05f5e"/>
<path d="M74.7 140.34A212.6 212.6 0 0 0 72.77 143.5L84.42 150.51A199 199 0 0 1 86.24 147.55Z" fill="#ee5b5e"/>
<path d="M72.77 143.5A212.6 212.6 0 0 0 70.88 146.7L82.66 153.5A199 199 0 0 1 84.42 150.51Z" fill="#ed5a5f"/>
<path d="M70.88 146.7A212.6 212.6 0 0 0 69.06 149.93L80.95 156.52A199 199 0 0 1 82.66 153.5Z" fill="#ec5860"/>
<path d="M69.06 149.93A212.6 212.6 0 0 0 67.29 153.19L79.29 159.58A199 199 0 0 1 80.95 156.52Z" fill="#ea5661"/>
<path d="M67.29 153.19A212.6 212.6 0 0 0 65.57 156.48L77.69 162.66A199 199 0 0 1 79.29 159.58Z" fill="#e95462"/>
<path d="M65.57 156.48A212.6 212.6 0 0 0 63.92 159.8L76.14 165.76A199 199 0 0 1 77.69 162.66Z" fill="#e75263"/>
<path d="M63.92 159.8A212.6 212.6 0 0 0 62.32 163.15L74.64 168.9A199 199 0 0 1 76.14 165.76Z" fill="#e55064"/>
<path d="M62.32 163.15A212.6 212.6 0 0 0 60.78 166.53L73.2 172.06A199 199 0 0 1 74.64 168.9Z" fill="#e44f64"/>
<path d="M60.78 166.53A212.6 212.6 0 0 0 59.3 169.93L71.82 175.24A199 199 0 0 1 73.2 172.06Z" fill="#e24d66"/>
<path d="M59.3 169.93A212.6 212.6 0 0 0 57.88 173.36L70.49 178.45A199 199 0 0 1 71.82 175.24Z" fill="#e04c67"/>
<path d="M57.88 173.36A212.6 212.6 0 0 0 56.52 176.81L69.22 181.68A199 199 0 0 1 70.49 178.45Z" fill="#de4968"/>
<path d="M56.52 176.81A212.6 212.6 0 0 0 55.22 180.29L68 184.94A199 199 0 0 1 69.22 181.68Z" fill="#dc4869"/>
<path d="M55.22 180.29A212.6 212.6 0 0 0 53.98 183.78L66.84 188.21A199 199 0 0 1 68 184.94Z" fill="#db476a"/>
<path d="M53.98 183.78A212.6 212.6 0 0 0 52.81 187.3L65.74 191.51A199 199 0 0 1 66.84 188.21Z" fill="#d8456c"/>
<path d="M52.81 187.3A212.6 212.6 0 0 0 51.69 190.84L64.7 194.82A199 199 0 0 1 65.74 191.51Z" fill="#d6456c"/>
<path d="M51.69 190.84A212.6 212.6 0 0 0 50.64 194.4L63.71 198.15A199 199 0 0 1 64.7 194.82Z" fill="#d5446d"/>
<path d="M50.64 194.4A212.6 212.6 0 0 0 49.64 197.98L62.78 201.5A199 199 0 0 1 63.71 198.15Z" fill="#d2426f"/>
<path d="M49.64 197.98A212.6 212.6 0 0 0 48.72 201.57L61.91 204.86A199 199 0 0 1 62.78 201.5Z" fill="#d0416f"/>
<path d="M48.72 201.57A212.6 212.6 0 0 0 47.85 205.18L61.1 208.23A199 199 0 0 1 61.91 204.86Z" fill="#cd4071"/>
<path d="M47.85 205.18A212.6 212.6 0 0 0 47.05 208.8L60.35 211.63A199 199 0 0 1 61.1 208.23Z" fill="#cc3f71"/>
<path d="M47.05 208.8A212.6 212.6 0 0 0 46.31 212.43L59.66 215.03A199 199 0 0 1 60.35 211.63Z" fill="#ca3e72"/>
<path d="M46.31 212.43A212.6 212.6 0 0 0 45.63 216.08L59.02 218.44A199 199 0 0 1 59.66 215.03Z" fill="#c73d73"/>
<path d="M45.63 216.08A212.6 212.6 0 0 0 45.02 219.74L58.45 221.87A199 199 0 0 1 59.02 218.44Z" fill="#c53c74"/>
<path d="M45.02 219.74A212.6 212.6 0 0 0 44.47 223.41L57.94 225.3A199 199 0 0 1 58.45 221.87Z" fill="#c23b75"/>
<path d="M44.47 223.41A212.6 212.6 0 0 0 43.98 227.09L57.48 228.75A199 199 0 0 1 57.94 225.3Z" fill="#c03a76"/>
<path d="M43.98 227.09A212.6 212.6 0 0 0 43.56 230.78L57.09 232.2A199 199 0 0 1 57.48 228.75Z" fill="#bf3a77"/>
<path d="M43.56 230.78A212.6 212.6 0 0 0 43.21 234.47L56.76 235.66A199 199 0 0 1 57.09 232.2Z" fill="#bc3978"/>
<path d="M43.21 234.47A212.6 212.6 0 0 0 42.92 238.17L56.48 239.12A199 199 0 0 1 56.76 235.66Z" fill="#ba3878"/>
<path d="M42.92 238.17A212.6 212.6 0 0 0 42.69 241.87L56.27 242.59A199 199 0 0 1 56.48 239.12Z" fill="#b83779"/>
<path d="M42.69 241.87A212.6 212.6 0 0 0 42.53 245.58L56.12 246.06A199 199 0 0 1 56.27 242.59Z" fill="#b5367a"/>
<path d="M42.53 245.58A212.6 212.6 0 0 0 42.43 249.29L56.03 249.53A199 199 0 0 1 56.12 246.06Z" fill="#b3367a"/>
<path d="M42.43 249.29A212.6 212.6 0 0 0 42.4 253L56 253A199 199 0 0 1 56.03 249.53Z" fill="#b0357b"/>
<path d="M42.4 253A212.6 212.6 0 0 0 42.43 256.71L56.03 256.47A199 199 0 0 1 56 253Z" fill="#ae347b"/>
<path d="M42.43 256.71A212.6 212.6 0 0 0 42.53 260.42L56.12 259.94A199 199 0 0 1 56.03 256.47Z" fill="#ad347c"/>
<path d="M42.53 260.42A212.6 212.6 0 0 0 42.69 264.13L56.27 263.41A199 199 0 0 1 56.12 259.94Z" fill="#aa337d"/>
<path d="M42.69 264.13A212.6 212.6 0 0 0 42.92 267.83L56.48 266.88A199 199 0 0 1 56.27 263.41Z" fill="#a8327d"/>
<path d="M42.92 267.83A212.6 212.6 0 0 0 43.21 271.53L56.76 270.34A199 199 0 0 1 56.48 266.88Z" fill="#a5317e"/>
<path d="M43.21 271.53A212.6 212.6 0 0 0 43.56 275.22L57.09 273.8A199 199 0 0 1 56.76 270.34Z" fill="#a3307e"/>
<path d="M43.56 275.22A212.6 212.6 0 0 0 43.98 278.91L57.48 277.25A199 199 0 0 1 57.09 273.8Z" fill="#a1307e"/>
<path d="M43.98 278.91A212.6 212.6 0 0 0 44.47 282.59L57.94 280.7A199 199 0 0 1 57.48 277.25Z" fill="#9e2f7f"/>
<path d="M44.47 282.59A212.6 212.6 0 0 0 45.02 286.26L58.45 284.13A199 199 0 0 1 57.94 280.7Z" fill="#9c2e7f"/>
<path d="M45.02 286.26A212.6 212.6 0 0 0 45.63 289.92L59.02 287.56A199 199 0 0 1 58.45 284.13Z" fill="#992d80"/>
<path d="M45.63 289.92A212.6 212.6 0 0 0 46.31 293.57L59.66 290.97A199 199 0 0 1 59.02 287.56Z" fill="#982d80"/>
<path d="M46.31 293.57A212.6 212.6 0 0 0 47.05 297.2L60.35 294.37A199 199 0 0 1 59.66 290.97Z" fill="#962c80"/>
<path d="M47.05 297.2A212.6 212.6 0 0 0 47.85 300.82L61.1 297.77A199 199 0 0 1 60.35 294.37Z" fill="#932b80"/>
<path d="M47.85 300.82A212.6 212.6 0 0 0 48.72 304.43L61.91 301.14A199 199 0 0 1 61.1 297.77Z" fill="#912b81"/>
<path d="M48.72 304.43A212.6 212.6 0 0 0 49.64 308.02L62.78 304.5A199 199 0 0 1 61.91 301.14Z" fill="#902a81"/>
<path d="M49.64 308.02A212.6 212.6 0 0 0 50.64 311.6L63.71 307.85A199 199 0 0 1 62.78 304.5Z" fill="#8c2981"/>
<path d="M50.64 311.6A212.6 212.6 0 0 0 51.69 315.16L64.7 311.18A199 199 0 0 1 63.71 307.85Z" fill="#8b2981"/>
<path d="M51.69 315.16A212.6 212.6 0 0 0 52.81 318.7L65.74 314.49A199 199 0 0 1 64.7 311.18Z" fill="#882781"/>
<path d="M52.81 318.7A212.6 212.6 0 0 0 53.98 322.22L66.84 317.79A199 199 0 0 1 65.74 314.49Z" fill="#862781"/>
<path d="M53.98 322.22A212.6 212.6 0 0 0 55.22 325.71L68 321.06A199 199 0 0 1 66.84 317.79Z" fill="#842681"/>
<path d="M55.22 325.71A212.6 212.6 0 0 0 56.52 329.19L69.22 324.32A199 199 0 0 1 68 321.06Z" fill="#812581"/>
<path d="M56.52 329.19A212.6 212.6 0 0 0 57.88 332.64L70.49 327.55A199 199 0 0 1 69.22 324.32Z" fill="#802582"/>
<path d="M57.88 332.64A212.6 212.6 0 0 0 59.3 336.07L71.82 330.76A199 199 0 0 1 70.49 327.55Z" fill="#7c2382"/>
<path d="M59.3 336.07A212.6 212.6 0 0 0 60.78 339.47L73.2 333.94A199 199 0 0 1 71.82 330.76Z" fill="#7b2382"/>
<path d="M60.78 339.47A212.6 212.6 0 0 0 62.32 342.85L74.64 337.1A199 199 0 0 1 73.2 333.94Z" fill="#792282"/>
<path d="M62.32 342.85A212.6 212.6 0 0 0 63.92 346.2L76.14 340.24A199 199 0 0 1 74.64 337.1Z" fill="#762181"/>
<path d="M63.92 346.2A212.6 212.6 0 0 0 65.57 349.52L77.69 343.34A199 199 0 0 1 76.14 340.24Z" fill="#752181"/>
<path d="M65.57 349.52A212.6 212.6 0 0 0 67.29 352.81L79.29 346.42A199 199 0 0 1 77.69 343.34Z" fill="#732081"/>
<path d="M67.29 352.81A212.6 212.6 0 0 0 69.06 356.07L80.95 349.48A199 199 0 0 1 79.29 346.42Z" fill="#701f81"/>
<path d="M69.06 356.07A212.6 212.6 0 0 0 70.88 359.3L82.66 352.5A199 199 0 0 1 80.95 349.48Z" fill="#6e1e81"/>
<path d="M70.88 359.3A212.6 212.6 0 0 0 72.77 362.5L84.42 355.49A199 199 0 0 1 82.66 352.5Z" fill="#6b1d81"/>
<path d="M72.77 362.5A212.6 212.6 0 0 0 74.7 365.66L86.24 358.45A199 199 0 0 1 84.42 355.49Z" fill="#6a1c81"/>
<path d="M74.7 365.66A212.6 212.6 0 0 0 76.7 368.79L88.1 361.38A199 199 0 0 1 86.24 358.45Z" fill="#681c81"/>
<path d="M76.7 368.79A212.6 212.6 0 0 0 78.75 371.88L90.02 364.28A199 199 0 0 1 88.1 361.38Z" fill="#651a80"/>
<path d="M78.75 371.88A212.6 212.6 0 0 0 80.85 374.94L91.99 367.14A199 199 0 0 1 90.02 364.28Z" fill="#641a80"/>
<path d="M80.85 374.94A212.6 212.6 0 0 0 83 377.96L94.01 369.97A199 199 0 0 1 91.99 367.14Z" fill="#601880"/>
<path d="M83 377.96A212.6 212.6 0 0 0 85.21 380.95L96.07 372.76A199 199 0 0 1 94.01 369.97Z" fill="#5f187f"/>
<path d="M85.21 380.95A212.6 212.6 0 0 0 87.47 383.89L98.19 375.52A199 199 0 0 1 96.07 372.76Z" fill="#5d177f"/>
<path d="M87.47 383.89A212.6 212.6 0 0 0 89.78 386.79L100.35 378.23A199 199 0 0 1 98.19 375.52Z" fill="#5a167e"/>
<path d="M89.78 386.79A212.6 212.6 0 0 0 92.14 389.66L102.56 380.91A199 199 0 0 1 100.35 378.23Z" fill="#59157e"/>
<path d="M92.14 389.66A212.6 212.6 0 0 0 94.55 392.48L104.81 383.56A199 199 0 0 1 102.56 380.91Z" fill="#56147d"/>
<path d="M94.55 392.48A212.6 212.6 0 0 0 97.01 395.26L107.11 386.16A199 199 0 0 1 104.81 383.56Z" fill="#54137d"/>
<path d="M97.01 395.26A212.6 212.6 0 0 0 99.51 397.99L109.46 388.72A199 199 0 0 1 107.11 386.16Z" fill="#52137c"/>
<path d="M99.51 397.99A212.6 212.6 0 0 0 102.07 400.68L111.85 391.24A199 199 0 0 1 109.46 388.72Z" fill="#4f127b"/>
<path d="M102.07 400.68A212.6 212.6 0 0 0 104.67 403.33L114.29 393.71A199 199 0 0 1 111.85 391.24Z" fill="#4e117b"/>
<path d="M104.67 403.33A212.6 212.6 0 0 0 107.32 405.93L116.76 396.15A199 199 0 0 1 114.29 393.71Z" fill="#4c117a"/>
<path d="M107.32 405.93A212.6 212.6 0 0 0 110.01 408.49L119.28 398.54A199 199 0 0 1 116.76 396.15Z" fill="#491078"/>
<path d="M110.01 408.49A212.6 212.6 0 0 0 112.74 410.99L121.84 400.89A199 199 0 0 1 119.28 398.54Z" fill="#471078"/>
<path d="M112.74 410.99A212.6 212.6 0 0 0 115.52 413.45L124.44 403.19A199 199 0 0 1 121.84 400.89Z" fill="#440f76"/>
<path d="M115.52 413.45A212.6 212.6 0 0 0 118.34 415.86L127.09 405.44A199 199 0 0 1 124.44 403.19Z" fill="#420f75"/>
<path d="M118.34 415.86A212.6 212.6 0 0 0 121.21 418.22L129.77 407.65A199 199 0 0 1 127.09 405.44Z" fill="#400f74"/>
<path d="M121.21 418.22A212.6 212.6 0 0 0 124.11 420.53L132.48 409.81A199 199 0 0 1 129.77 407.65Z" fill="#3d0f71"/>
<path d="M124.11 420.53A212.6 212.6 0 0 0 127.05 422.79L135.24 411.93A199 199 0 0 1 132.48 409.81Z" fill="#3b0f70"/>
<path d="M127.05 422.79A212.6 212.6 0 0 0 130.04 425L138.03 413.99A199 199 0 0 1 135.24 411.93Z" fill="#38106c"/>
<path d="M130.04 425A212.6 212.6 0 0 0 133.06 427.15L140.86 416.01A199 199 0 0 1 138.03 413.99Z" fill="#36106b"/>
<path d="M133.06 427.15A212.6 212.6 0 0 0 136.12 429.25L143.72 417.98A199 199 0 0 1 140.86 416.01Z" fill="#341069"/>
<path d="M136.12 429.25A212.6 212.6 0 0 0 139.21 431.3L146.62 419.9A199 199 0 0 1 143.72 417.98Z" fill="#311165"/>
<path d="M139.21 431.3A212.6 212.6 0 0 0 142.34 433.3L149.55 421.76A199 199 0 0 1 146.62 419.9Z" fill="#2f1163"/>
<path d="M142.34 433.3A212.6 212.6 0 0 0 145.5 435.23L152.51 423.58A199 199 0 0 1 149.55 421.76Z" fill="#2d1161"/>
<path d="M145.5 435.23A212.6 212.6 0 0 0 148.7 437.12L155.5 425.34A199 199 0 0 1 152.51 423.58Z" fill="#2a115c"/>
<path d="M148.7 437.12A212.6 212.6 0 0 0 151.93 438.94L158.52 427.05A199 199 0 0 1 155.5 425.34Z" fill="#29115a"/>
<path d="M151.93 438.94A212.6 212.6 0 0 0 155.19 440.71L161.58 428.71A199 199 0 0 1 158.52 427.05Z" fill="#251255"/>
<path d="M155.19 440.71A212.6 212.6 0 0 0 158.48 442.43L164.66 430.31A199 199 0 0 1 161.58 428.71Z" fill="#241253"/>
<path d="M158.48 442.43A212.6 212.6 0 0 0 161.8 444.08L167.76 431.86A199 199 0 0 1 164.66 430.31Z" fill="#221150"/>
<path d="M161.8 444.08A212.6 212.6 0 0 0 165.15 445.68L170.9 433.36A199 199 0 0 1 167.76 431.86Z" fill="#20114b"/>
<path d="M165.15 445.68A212.6 212.6 0 0 0 168.53 447.22L174.06 434.8A199 199 0 0 1 170.9 433.36Z" fill="#1e1149"/>
<path d="M168.53 447.22A212.6 212.6 0 0 0 171.93 448.7L177.24 436.18A199 199 0 0 1 174.06 434.8Z" fill="#1c1044"/>
<path d="M171.93 448.7A212.6 212.6 0 0 0 175.36 450.12L180.45 437.51A199 199 0 0 1 177.24 436.18Z" fill="#1a1042"/>
<path d="M175.36 450.12A212.6 212.6 0 0 0 178.81 451.48L183.68 438.78A199 199 0 0 1 180.45 437.51Z" fill="#19103f"/>
<path d="M178.81 451.48A212.6 212.6 0 0 0 182.29 452.78L186.94 440A199 199 0 0 1 183.68 438.78Z" fill="#160f3b"/>
<path d="M182.29 452.78A212.6 212.6 0 0 0 185.78 454.02L190.21 441.16A199 199 0 0 1 186.94 440Z" fill="#150e38"/>
<path d="M185.78 454.02A212.6 212.6 0 0 0 189.3 455.19L193.51 442.26A199 199 0 0 1 190.21 441.16Z" fill="#130d34"/>
<path d="M189.3 455.19A212.6 212.6 0 0 0 192.84 456.31L196.82 443.3A199 199 0 0 1 193.51 442.26Z" fill="#120d31"/>
<path d="M192.84 456.31A212.6 212.6 0 0 0 196.4 457.36L200.15 444.29A199 199 0 0 1 196.82 443.3Z" fill="#110c2f"/>
<path d="M196.4 457.36A212.6 212.6 0 0 0 199.98 458.36L203.5 445.22A199 199 0 0 1 200.15 444.29Z" fill="#0e0b2b"/>
<path d="M199.98 458.36A212.6 212.6 0 0 0 203.57 459.28L206.86 446.09A199 199 0 0 1 203.5 445.22Z" fill="#0d0a29"/>
<path d="M203.57 459.28A212.6 212.6 0 0 0 207.18 460.15L210.23 446.9A199 199 0 0 1 206.86 446.09Z" fill="#0c0926"/>
<path d="M207.18 460.15A212.6 212.6 0 0 0 210.8 460.95L213.63 447.65A199 199 0 0 1 210.23 446.9Z" fill="#0a0822"/>
<path d="M210.8 460.95A212.6 212.6 0 0 0 214.43 461.69L217.03 448.34A199 199 0 0 1 213.63 447.65Z" fill="#090720"/>
<path d="M214.43 461.69A212.6 212.6 0 0 0 218.08 462.37L220.44 448.98A199 199 0 0 1 217.03 448.34Z" fill="#07061c"/>
<path d="M218.08 462.37A212.6 212.6 0 0 0 221.74 462.98L223.87 449.55A199 199 0 0 1 220.44 448.98Z" fill="#06051a"/>
<path d="M221.74 462.98A212.6 212.6 0 0 0 225.41 463.53L227.3 450.06A199 199 0 0 1 223.87 449.55Z" fill="#060518"/>
<path d="M225.41 463.53A212.6 212.6 0 0 0 229.09 464.02L230.75 450.52A199 199 0 0 1 227.3 450.06Z" fill="#040414"/>
<path d="M229.09 464.02A212.6 212.6 0 0 0 232.78 464.44L234.2 450.91A199 199 0 0 1 230.75 450.52Z" fill="#030312"/>
<path d="M232.78 464.44A212.6 212.6 0 0 0 236.47 464.79L237.66 451.24A199 199 0 0 1 234.2 450.91Z" fill="#02020d"/>
<path d="M236.47 464.79A212.6 212.6 0 0 0 240.17 465.08L241.12 451.52A199 199 0 0 1 237.66 451.24Z" fill="#02020b"/>
<path d="M240.17 465.08A212.6 212.6 0 0 0 243.87 465.31L244.59 451.73A199 199 0 0 1 241.12 451.52Z" fill="#020109"/>
<path d="M243.87 465.31A212.6 212.6 0 0 0 247.58 465.47L248.06 451.88A199 199 0 0 1 244.59 451.73Z" fill="#010106"/>
<path d="M247.58 465.47A212.6 212.6 0 0 0 251.29 465.57L251.53 451.97A199 199 0 0 1 248.06 451.88Z" fill="#010005"/>
<path d="M251.29 465.57A212.6 212.6 0 0 0 255 465.6L255 452A199 199 0 0 1 251.53 451.97Z" fill="#000004"/>
</g>
<path d="M255 54A199 199 0 0 0 255 452" fill="none" stroke="#fff" stroke-width="0.9"/>
<g font-family='"Liberation Serif", serif' font-size="8.0" text-anchor="end" fill="#1a1a1a" stroke="#1a1a1a" stroke-width="0.25">
<text transform="translate(253.13 39.01) rotate(89.5)" dy="0.32em">CACN1</text>
<text transform="translate(249.4 39.07) rotate(88.5)" dy="0.32em">CDH1</text>
<text transform="translate(245.67 39.2) rotate(87.5)" dy="0.32em">ADAM122</text>
<text transform="translate(241.94 39.4) rotate(86.5)" dy="0.32em">GPR2</text>
<text transform="translate(238.21 39.66) rotate(85.5)" dy="0.32em">ADEN17B</text>
<text transform="translate(234.49 39.99) rotate(84.5)" dy="0.32em">ATP3</text>
<text transform="translate(230.77 40.38) rotate(83.5)" dy="0.32em">UPK53</text>
<text transform="translate(227.07 40.83) rotate(82.5)" dy="0.32em">UPK6</text>
<text transform="translate(223.37 41.35) rotate(81.5)" dy="0.32em">OR18</text>
<text transform="translate(219.68 41.93) rotate(80.5)" dy="0.32em">NDUF68</text>
<text transform="translate(216 42.58) rotate(79.5)" dy="0.32em">GRI4C</text>
<text transform="translate(212.34 43.3) rotate(78.5)" dy="0.32em">CHRN2</text>
<text transform="translate(208.68 44.07) rotate(77.5)" dy="0.32em">ITG6</text>
<text transform="translate(205.04 44.91) rotate(76.5)" dy="0.32em">UGT2</text>
<text transform="translate(201.42 45.82) rotate(75.5)" dy="0.32em">UPK668</text>
<text transform="translate(197.81 46.78) rotate(74.5)" dy="0.32em">OR252</text>
<text transform="translate(194.22 47.81) rotate(73.5)" dy="0.32em">UPK8</text>
<text transform="translate(190.65 48.9) rotate(72.5)" dy="0.32em">IL6D</text>
<text transform="translate(187.1 50.06) rotate(71.5)" dy="0.32em">ABC8C</text>
<text transform="translate(183.57 51.27) rotate(70.5)" dy="0.32em">UGT8</text>
<text transform="translate(180.06 52.55) rotate(69.5)" dy="0.32em">HTR39</text>
<text transform="translate(176.57 53.89) rotate(68.5)" dy="0.32em">ITG7</text>
<text transform="translate(173.11 55.29) rotate(67.5)" dy="0.32em">CACN23R</text>
<text transform="translate(169.67 56.75) rotate(66.5)" dy="0.32em">UGT3</text>
<text transform="translate(166.26 58.27) rotate(65.5)" dy="0.32em">SLC9</text>
<text transform="translate(162.87 59.85) rotate(64.5)" dy="0.32em">UPK69</text>
<text transform="translate(159.51 61.48) rotate(63.5)" dy="0.32em">GPR897D</text>
<text transform="translate(156.19 63.18) rotate(62.5)" dy="0.32em">GPR4</text>
<text transform="translate(152.89 64.93) rotate(61.5)" dy="0.32em">ABC62</text>
<text transform="translate(149.62 66.74) rotate(60.5)" dy="0.32em">CDH6</text>
<text transform="translate(146.39 68.61) rotate(59.5)" dy="0.32em">OR47C</text>
<text transform="translate(143.19 70.54) rotate(58.5)" dy="0.32em">FXYD82D</text>
<text transform="translate(140.02 72.51) rotate(57.5)" dy="0.32em">C20orf82</text>
<text transform="translate(136.89 74.55) rotate(56.5)" dy="0.32em">SYT3</text>
<text transform="translate(133.79 76.64) rotate(55.5)" dy="0.32em">ADAM9</text>
<text transform="translate(130.73 78.78) rotate(54.5)" dy="0.32em">CDH15</text>
<text transform="translate(127.71 80.97) rotate(53.5)" dy="0.32em">CD596369</text>
<text transform="translate(124.73 83.22) rotate(52.5)" dy="0.32em">ADRA4</text>
<text transform="translate(121.78 85.52) rotate(51.5)" dy="0.32em">PCDH7</text>
<text transform="translate(118.88 87.87) rotate(50.5)" dy="0.32em">LRRC46</text>
<text transform="translate(116.02 90.27) rotate(49.5)" dy="0.32em">TMEM54</text>
<text transform="translate(113.2 92.72) rotate(48.5)" dy="0.32em">MS4A86</text>
<text transform="translate(110.42 95.22) rotate(47.5)" dy="0.32em">FXYD24D</text>
<text transform="translate(107.69 97.77) rotate(46.5)" dy="0.32em">SLC6</text>
<text transform="translate(105.01 100.36) rotate(45.5)" dy="0.32em">CD2743</text>
<text transform="translate(102.36 103.01) rotate(44.5)" dy="0.32em">CD782</text>
<text transform="translate(99.77 105.69) rotate(43.5)" dy="0.32em">SCN31D</text>
<text transform="translate(97.22 108.42) rotate(42.5)" dy="0.32em">CACN86</text>
<text transform="translate(94.72 111.2) rotate(41.5)" dy="0.32em">ATP2</text>
<text transform="translate(92.27 114.02) rotate(40.5)" dy="0.32em">ATP74</text>
<text transform="translate(89.87 116.88) rotate(39.5)" dy="0.32em">ADAM1C</text>
<text transform="translate(87.52 119.78) rotate(38.5)" dy="0.32em">ADEN9</text>
<text transform="translate(85.22 122.73) rotate(37.5)" dy="0.32em">ATP16</text>
<text transform="translate(82.97 125.71) rotate(36.5)" dy="0.32em">ADEN979</text>
<text transform="translate(80.78 128.73) rotate(35.5)" dy="0.32em">LY68</text>
<text transform="translate(78.64 131.79) rotate(34.5)" dy="0.32em">SLC33L</text>
<text transform="translate(76.55 134.89) rotate(33.5)" dy="0.32em">QRFPR9</text>
<text transform="translate(74.51 138.02) rotate(32.5)" dy="0.32em">CLDN1</text>
<text transform="translate(72.54 141.19) rotate(31.5)" dy="0.32em">HTR2</text>
<text transform="translate(70.61 144.39) rotate(30.5)" dy="0.32em">TMEM2</text>
<text transform="translate(68.74 147.62) rotate(29.5)" dy="0.32em">ADRA4</text>
<text transform="translate(66.93 150.89) rotate(28.5)" dy="0.32em">ADRA99</text>
<text transform="translate(65.18 154.19) rotate(27.5)" dy="0.32em">LY65943</text>
<text transform="translate(63.48 157.51) rotate(26.5)" dy="0.32em">P2R27</text>
<text transform="translate(61.85 160.87) rotate(25.5)" dy="0.32em">ABC3</text>
<text transform="translate(60.27 164.26) rotate(24.5)" dy="0.32em">FXYD358</text>
<text transform="translate(58.75 167.67) rotate(23.5)" dy="0.32em">UGT4</text>
<text transform="translate(57.29 171.11) rotate(22.5)" dy="0.32em">ITG6</text>
<text transform="translate(55.89 174.57) rotate(21.5)" dy="0.32em">IL65</text>
<text transform="translate(54.55 178.06) rotate(20.5)" dy="0.32em">OR242</text>
<text transform="translate(53.27 181.57) rotate(19.5)" dy="0.32em">HTR3</text>
<text transform="translate(52.06 185.1) rotate(18.5)" dy="0.32em">ATP5</text>
<text transform="translate(50.9 188.65) rotate(17.5)" dy="0.32em">CDH96</text>
<text transform="translate(49.81 192.22) rotate(16.5)" dy="0.32em">GPR3</text>
<text transform="translate(48.78 195.81) rotate(15.5)" dy="0.32em">OR515</text>
<text transform="translate(47.82 199.42) rotate(14.5)" dy="0.32em">OR58</text>
<text transform="translate(46.91 203.04) rotate(13.5)" dy="0.32em">ITG5</text>
<text transform="translate(46.07 206.68) rotate(12.5)" dy="0.32em">KCN92</text>
<text transform="translate(45.3 210.34) rotate(11.5)" dy="0.32em">SYT13459</text>
<text transform="translate(44.58 214) rotate(10.5)" dy="0.32em">CHRN83</text>
<text transform="translate(43.93 217.68) rotate(9.5)" dy="0.32em">SYT1</text>
<text transform="translate(43.35 221.37) rotate(8.5)" dy="0.32em">QRFPR9</text>
<text transform="translate(42.83 225.07) rotate(7.5)" dy="0.32em">CLDN7</text>
<text transform="translate(42.38 228.77) rotate(6.5)" dy="0.32em">CDH75</text>
<text transform="translate(41.99 232.49) rotate(5.5)" dy="0.32em">LRRC6R</text>
<text transform="translate(41.66 236.21) rotate(4.5)" dy="0.32em">ATP763</text>
<text transform="translate(41.4 239.94) rotate(3.5)" dy="0.32em">SYT1</text>
<text transform="translate(41.2 243.67) rotate(2.5)" dy="0.32em">IL95</text>
<text transform="translate(41.07 247.4) rotate(1.5)" dy="0.32em">CHRN3</text>
<text transform="translate(41.01 251.13) rotate(0.5)" dy="0.32em">SLC6</text>
<text transform="translate(41.01 254.87) rotate(-0.5)" dy="0.32em">QRFPR64C</text>
<text transform="translate(41.07 258.6) rotate(-1.5)" dy="0.32em">GRI7</text>
<text transform="translate(41.2 262.33) rotate(-2.5)" dy="0.32em">HTR4</text>
<text transform="translate(41.4 266.06) rotate(-3.5)" dy="0.32em">SLC2</text>
<text transform="translate(41.66 269.79) rotate(-4.5)" dy="0.32em">KCN5</text>
<text transform="translate(41.99 273.51) rotate(-5.5)" dy="0.32em">LRRC9</text>
<text transform="translate(42.38 277.23) rotate(-6.5)" dy="0.32em">CACN78</text>
<text transform="translate(42.83 280.93) rotate(-7.5)" dy="0.32em">KCN9</text>
<text transform="translate(43.35 284.63) rotate(-8.5)" dy="0.32em">ADRA9</text>
<text transform="translate(43.93 288.32) rotate(-9.5)" dy="0.32em">UPK14A</text>
<text transform="translate(44.58 292) rotate(-10.5)" dy="0.32em">IL81</text>
<text transform="translate(45.3 295.66) rotate(-11.5)" dy="0.32em">UGT5A</text>
<text transform="translate(46.07 299.32) rotate(-12.5)" dy="0.32em">ADRA9L</text>
<text transform="translate(46.91 302.96) rotate(-13.5)" dy="0.32em">SYT5</text>
<text transform="translate(47.82 306.58) rotate(-14.5)" dy="0.32em">UGT2</text>
<text transform="translate(48.78 310.19) rotate(-15.5)" dy="0.32em">CHRN4</text>
<text transform="translate(49.81 313.78) rotate(-16.5)" dy="0.32em">SYT5</text>
<text transform="translate(50.9 317.35) rotate(-17.5)" dy="0.32em">ATP18</text>
<text transform="translate(52.06 320.9) rotate(-18.5)" dy="0.32em">UGT9</text>
<text transform="translate(53.27 324.43) rotate(-19.5)" dy="0.32em">ABC9</text>
<text transform="translate(54.55 327.94) rotate(-20.5)" dy="0.32em">CD8D</text>
<text transform="translate(55.89 331.43) rotate(-21.5)" dy="0.32em">HTR4</text>
<text transform="translate(57.29 334.89) rotate(-22.5)" dy="0.32em">CD35</text>
<text transform="translate(58.75 338.33) rotate(-23.5)" dy="0.32em">ATP9524</text>
<text transform="translate(60.27 341.74) rotate(-24.5)" dy="0.32em">UGT7A</text>
<text transform="translate(61.85 345.13) rotate(-25.5)" dy="0.32em">ERVMER3</text>
<text transform="translate(63.48 348.49) rotate(-26.5)" dy="0.32em">IL621</text>
<text transform="translate(65.18 351.81) rotate(-27.5)" dy="0.32em">ABC45</text>
<text transform="translate(66.93 355.11) rotate(-28.5)" dy="0.32em">OR7L</text>
<text transform="translate(68.74 358.38) rotate(-29.5)" dy="0.32em">HTR5</text>
<text transform="translate(70.61 361.61) rotate(-30.5)" dy="0.32em">HTR6</text>
<text transform="translate(72.54 364.81) rotate(-31.5)" dy="0.32em">CD17</text>
<text transform="translate(74.51 367.98) rotate(-32.5)" dy="0.32em">ATP59</text>
<text transform="translate(76.55 371.11) rotate(-33.5)" dy="0.32em">ITG5</text>
<text transform="translate(78.64 374.21) rotate(-34.5)" dy="0.32em">SYT4</text>
<text transform="translate(80.78 377.27) rotate(-35.5)" dy="0.32em">ABC32</text>
<text transform="translate(82.97 380.29) rotate(-36.5)" dy="0.32em">UGT8</text>
<text transform="translate(85.22 383.27) rotate(-37.5)" dy="0.32em">ERVMER9</text>
<text transform="translate(87.52 386.22) rotate(-38.5)" dy="0.32em">CD3A</text>
<text transform="translate(89.87 389.12) rotate(-39.5)" dy="0.32em">FXYD4</text>
<text transform="translate(92.27 391.98) rotate(-40.5)" dy="0.32em">ITG779C</text>
<text transform="translate(94.72 394.8) rotate(-41.5)" dy="0.32em">GPR8C</text>
<text transform="translate(97.22 397.58) rotate(-42.5)" dy="0.32em">LY64</text>
<text transform="translate(99.77 400.31) rotate(-43.5)" dy="0.32em">IL77</text>
<text transform="translate(102.36 402.99) rotate(-44.5)" dy="0.32em">TMEM318</text>
<text transform="translate(105.01 405.64) rotate(-45.5)" dy="0.32em">UGT12798</text>
<text transform="translate(107.69 408.23) rotate(-46.5)" dy="0.32em">LY62</text>
<text transform="translate(110.42 410.78) rotate(-47.5)" dy="0.32em">C20orf1</text>
<text transform="translate(113.2 413.28) rotate(-48.5)" dy="0.32em">ATP1</text>
<text transform="translate(116.02 415.73) rotate(-49.5)" dy="0.32em">GABR5</text>
<text transform="translate(118.88 418.13) rotate(-50.5)" dy="0.32em">NDUF2</text>
<text transform="translate(121.78 420.48) rotate(-51.5)" dy="0.32em">LY64</text>
<text transform="translate(124.73 422.78) rotate(-52.5)" dy="0.32em">LRRC1</text>
<text transform="translate(127.71 425.03) rotate(-53.5)" dy="0.32em">HTR4</text>
<text transform="translate(130.73 427.22) rotate(-54.5)" dy="0.32em">TMEM5</text>
<text transform="translate(133.79 429.36) rotate(-55.5)" dy="0.32em">UGT7</text>
<text transform="translate(136.89 431.45) rotate(-56.5)" dy="0.32em">UGT6</text>
<text transform="translate(140.02 433.49) rotate(-57.5)" dy="0.32em">FXYD7C</text>
<text transform="translate(143.19 435.46) rotate(-58.5)" dy="0.32em">ADRA2B</text>
<text transform="translate(146.39 437.39) rotate(-59.5)" dy="0.32em">PCDH4</text>
<text transform="translate(149.62 439.26) rotate(-60.5)" dy="0.32em">UGT4</text>
<text transform="translate(152.89 441.07) rotate(-61.5)" dy="0.32em">GPR31</text>
<text transform="translate(156.19 442.82) rotate(-62.5)" dy="0.32em">ITG1</text>
<text transform="translate(159.51 444.52) rotate(-63.5)" dy="0.32em">P2R2</text>
<text transform="translate(162.87 446.15) rotate(-64.5)" dy="0.32em">TAS2R4L</text>
<text transform="translate(166.26 447.73) rotate(-65.5)" dy="0.32em">KCN576</text>
<text transform="translate(169.67 449.25) rotate(-66.5)" dy="0.32em">CLDN5</text>
<text transform="translate(173.11 450.71) rotate(-67.5)" dy="0.32em">ITG2</text>
<text transform="translate(176.57 452.11) rotate(-68.5)" dy="0.32em">ADAM5</text>
<text transform="translate(180.06 453.45) rotate(-69.5)" dy="0.32em">NDUF2D</text>
<text transform="translate(183.57 454.73) rotate(-70.5)" dy="0.32em">CDH4</text>
<text transform="translate(187.1 455.94) rotate(-71.5)" dy="0.32em">TMEM4</text>
<text transform="translate(190.65 457.1) rotate(-72.5)" dy="0.32em">KCN711</text>
<text transform="translate(194.22 458.19) rotate(-73.5)" dy="0.32em">OR6C</text>
<text transform="translate(197.81 459.22) rotate(-74.5)" dy="0.32em">KCN565R</text>
<text transform="translate(201.42 460.18) rotate(-75.5)" dy="0.32em">OR1428</text>
<text transform="translate(205.04 461.09) rotate(-76.5)" dy="0.32em">IL57833</text>
<text transform="translate(208.68 461.93) rotate(-77.5)" dy="0.32em">P2R8</text>
<text transform="translate(212.34 462.7) rotate(-78.5)" dy="0.32em">CD94B</text>
<text transform="translate(216 463.42) rotate(-79.5)" dy="0.32em">OR19</text>
<text transform="translate(219.68 464.07) rotate(-80.5)" dy="0.32em">NDUF2</text>
<text transform="translate(223.37 464.65) rotate(-81.5)" dy="0.32em">CD4D</text>
<text transform="translate(227.07 465.17) rotate(-82.5)" dy="0.32em">ERVMER3D</text>
<text transform="translate(230.77 465.62) rotate(-83.5)" dy="0.32em">CDH25</text>
<text transform="translate(234.49 466.01) rotate(-84.5)" dy="0.32em">UPK5</text>
<text transform="translate(238.21 466.34) rotate(-85.5)" dy="0.32em">PCDH8B</text>
<text transform="translate(241.94 466.6) rotate(-86.5)" dy="0.32em">P2R5</text>
<text transform="translate(245.67 466.8) rotate(-87.5)" dy="0.32em">ADRA9421</text>
<text transform="translate(249.4 466.93) rotate(-88.5)" dy="0.32em">KCN4</text>
<text transform="translate(253.13 466.99) rotate(-89.5)" dy="0.32em">OR63</text>
</g>
<defs><linearGradient id="ga" x1="0" x2="1" y1="0" y2="0"><stop offset="0%" stop-color="#fff7ec"/><stop offset="12%" stop-color="#fee8c8"/><stop offset="25%" stop-color="#fdd49e"/><stop offset="37%" stop-color="#fdbb84"/><stop offset="50%" stop-color="#fc8d59"/><stop offset="62%" stop-color="#ef6548"/><stop offset="75%" stop-color="#d7301f"/><stop offset="87%" stop-color="#b30000"/><stop offset="100%" stop-color="#7f0000"/></linearGradient></defs>
<rect x="475.4" y="51.1" width="104" height="13.3" fill="url(#ga)"/>
<g font-family='"Liberation Serif", serif' fill="#222" stroke="#222" stroke-width="0.15">
<text x="527.6" y="49" font-size="8.6" text-anchor="middle">pvalue</text>
<path d="M475.8 64.9V68.9" stroke="#222" stroke-width="0.7"/>
<path d="M488.7 64.9V68.9" stroke="#222" stroke-width="0.7"/>
<path d="M503.9 64.9V68.9" stroke="#222" stroke-width="0.7"/>
<path d="M519 64.9V68.9" stroke="#222" stroke-width="0.7"/>
<path d="M533.7 64.9V68.9" stroke="#222" stroke-width="0.7"/>
<path d="M548 64.9V68.9" stroke="#222" stroke-width="0.7"/>
<path d="M562.7 64.9V68.9" stroke="#222" stroke-width="0.7"/>
<path d="M579 64.9V68.9" stroke="#222" stroke-width="0.7"/>
<text x="488.7" y="77.6" font-size="8.4" text-anchor="middle">0.005</text>
<text x="503.9" y="77.6" font-size="8.4" text-anchor="middle">0.010</text>
<text x="519" y="77.6" font-size="8.4" text-anchor="middle">0.015</text>
<text x="533.7" y="77.6" font-size="8.4" text-anchor="middle">0.020</text>
<text x="548" y="77.6" font-size="8.4" text-anchor="middle">0.025</text>
<text x="562.7" y="77.6" font-size="8.4" text-anchor="middle">0.030</text>
<text x="576.5" y="77.6" font-size="8.4" text-anchor="middle">0.035</text>
<text x="476.8" y="95.2" font-size="9.0">Pathway</text>
<circle cx="480.5" cy="101.4" r="4.3" fill="#0b4f95" stroke="none"/>
<text x="486.8" y="104.06" font-size="8.85">GO:0005887~integral component of plasma membrane</text>
<circle cx="480.5" cy="110.9" r="4.3" fill="#67973a" stroke="none"/>
<text x="486.8" y="113.56" font-size="8.85">GO:0005886~plasma membrane</text>
<circle cx="480.5" cy="120.4" r="4.3" fill="#5a7bae" stroke="none"/>
<text x="486.8" y="123.06" font-size="8.85">GO:0016021~integral component of membrane</text>
<circle cx="480.5" cy="129.9" r="4.3" fill="#e06868" stroke="none"/>
<text x="486.8" y="132.56" font-size="8.85">GO:0031225~anchored component of membrane</text>
<circle cx="480.5" cy="139.4" r="4.3" fill="#a9dcd8" stroke="none"/>
<text x="486.8" y="142.06" font-size="8.85">GO:0002080~acrosomal membrane</text>
</g>
</g>
<g>
<g>
<g fill="#0b4a8f" stroke="#0b4a8f" stroke-width="0.2">
<path d="M216.2 606.9Q216.2 775.7 216.2 944.5L206.9 944.24Q216.2 775.7 224.11 607.09Z"/>
<path d="M224.11 607.09Q216.2 775.7 206.9 944.24L197.63 943.48Q216.2 775.7 232.01 607.64Z"/>
<path d="M232.01 607.64Q216.2 775.7 197.63 943.48L188.42 942.2Q216.2 775.7 239.87 608.57Z"/>
<path d="M239.87 608.57Q216.2 775.7 188.42 942.2L179.29 940.41Q216.2 775.7 247.67 609.86Z"/>
<path d="M247.67 609.86Q216.2 775.7 179.29 940.41L170.27 938.13Q216.2 775.7 255.41 611.52Z"/>
<path d="M255.41 611.52Q216.2 775.7 170.27 938.13L161.39 935.35Q216.2 775.7 263.07 613.54Z"/>
<path d="M263.07 613.54Q216.2 775.7 161.39 935.35L152.68 932.09Q216.2 775.7 270.62 615.91Z"/>
<path d="M270.62 615.91Q216.2 775.7 152.68 932.09L144.16 928.36Q216.2 775.7 278.04 618.64Z"/>
<path d="M278.04 618.64Q216.2 775.7 144.16 928.36L135.86 924.16Q216.2 775.7 285.34 621.71Z"/>
<path d="M285.34 621.71Q216.2 775.7 127.8 631.9L131.8 629.51Q216.2 775.7 292.48 625.12Z"/>
</g>
<g fill="#c60e1e" stroke="#c60e1e" stroke-width="0.2">
<path d="M292.48 625.12Q216.2 775.7 135.86 924.16L127.8 919.5Q216.2 775.7 299.46 628.86Z"/>
<path d="M299.46 628.86Q216.2 775.7 127.8 919.5L120.02 914.42Q216.2 775.7 306.25 632.92Z"/>
<path d="M306.25 632.92Q216.2 775.7 120.02 914.42L112.52 908.91Q216.2 775.7 312.84 637.3Z"/>
<path d="M312.84 637.3Q216.2 775.7 112.52 908.91L105.34 902.99Q216.2 775.7 319.22 641.98Z"/>
<path d="M319.22 641.98Q216.2 775.7 105.34 902.99L98.5 896.69Q216.2 775.7 325.37 646.96Z"/>
<path d="M325.37 646.96Q216.2 775.7 98.5 896.69L92.01 890.03Q216.2 775.7 331.29 652.22Z"/>
<path d="M331.29 652.22Q216.2 775.7 92.01 890.03L85.9 883.01Q216.2 775.7 336.95 657.75Z"/>
<path d="M336.95 657.75Q216.2 775.7 85.9 883.01L80.19 875.67Q216.2 775.7 342.35 663.54Z"/>
<path d="M342.35 663.54Q216.2 775.7 80.19 875.67L74.89 868.02Q216.2 775.7 347.47 669.57Z"/>
<path d="M347.47 669.57Q216.2 775.7 74.89 868.02L70.01 860.1Q216.2 775.7 352.3 675.84Z"/>
<path d="M352.3 675.84Q216.2 775.7 70.01 860.1L65.59 851.92Q216.2 775.7 356.83 682.33Z"/>
<path d="M356.83 682.33Q216.2 775.7 65.59 851.92L61.62 843.51Q216.2 775.7 361.05 689.03Z"/>
<path d="M361.05 689.03Q216.2 775.7 61.62 843.51L58.12 834.89Q216.2 775.7 364.95 695.91Z"/>
<path d="M364.95 695.91Q216.2 775.7 58.12 834.89L55.1 826.09Q216.2 775.7 368.53 702.97Z"/>
<path d="M368.53 702.97Q216.2 775.7 55.1 826.09L52.57 817.14Q216.2 775.7 371.77 710.19Z"/>
<path d="M371.77 710.19Q216.2 775.7 52.57 817.14L50.53 808.06Q216.2 775.7 374.67 717.55Z"/>
<path d="M374.67 717.55Q216.2 775.7 50.53 808.06L49 798.89Q216.2 775.7 377.22 725.05Z"/>
<path d="M377.22 725.05Q216.2 775.7 49 798.89L47.98 789.64Q216.2 775.7 379.42 732.65Z"/>
<path d="M379.42 732.65Q216.2 775.7 47.98 789.64L47.46 780.35Q216.2 775.7 381.26 740.35Z"/>
<path d="M381.26 740.35Q216.2 775.7 47.46 780.35L47.46 771.05Q216.2 775.7 382.73 748.12Z"/>
<path d="M382.73 748.12Q216.2 775.7 47.46 771.05L47.98 761.76Q216.2 775.7 383.84 755.96Z"/>
<path d="M383.84 755.96Q216.2 775.7 135.86 627.24L139.98 625.09Q216.2 775.7 384.58 763.84Z"/>
<path d="M384.58 763.84Q216.2 775.7 144.16 623.04L148.39 621.12Q216.2 775.7 384.95 771.74Z"/>
<path d="M384.95 771.74Q216.2 775.7 152.68 619.31L157.01 617.62Q216.2 775.7 384.95 779.66Z"/>
<path d="M384.95 779.66Q216.2 775.7 161.39 616.05L165.81 614.6Q216.2 775.7 384.58 787.56Z"/>
</g>
<g fill="#8b7a2b" stroke="#8b7a2b" stroke-width="0.2">
<path d="M384.58 787.56Q216.2 775.7 47.98 761.76L49 752.51Q216.2 775.7 383.84 795.44Z"/>
<path d="M383.84 795.44Q216.2 775.7 139.98 625.09L144.16 623.04Q216.2 775.7 382.73 803.28Z"/>
<path d="M382.73 803.28Q216.2 775.7 148.39 621.12L152.68 619.31Q216.2 775.7 381.26 811.05Z"/>
<path d="M381.26 811.05Q216.2 775.7 157.01 617.62L161.39 616.05Q216.2 775.7 379.42 818.75Z"/>
<path d="M379.42 818.75Q216.2 775.7 170.27 613.27L174.76 612.07Q216.2 775.7 377.22 826.35Z"/>
</g>
<g fill="#2ea57a" stroke="#2ea57a" stroke-width="0.2">
<path d="M377.22 826.35Q216.2 775.7 49 752.51L50.53 743.34Q216.2 775.7 374.67 833.85Z"/>
<path d="M374.67 833.85Q216.2 775.7 179.29 610.99L183.84 610.03Q216.2 775.7 371.77 841.21Z"/>
<path d="M371.77 841.21Q216.2 775.7 188.42 609.2L193.01 608.5Q216.2 775.7 368.53 848.43Z"/>
</g>
<g fill="#2b8cb3" stroke="#2b8cb3" stroke-width="0.2">
<path d="M368.53 848.43Q216.2 775.7 50.53 743.34L52.57 734.26Q216.2 775.7 364.95 855.49Z"/>
<path d="M364.95 855.49Q216.2 775.7 52.57 734.26L55.1 725.31Q216.2 775.7 361.05 862.37Z"/>
<path d="M361.05 862.37Q216.2 775.7 55.1 725.31L58.12 716.51Q216.2 775.7 356.83 869.07Z"/>
<path d="M356.83 869.07Q216.2 775.7 58.12 716.51L61.62 707.89Q216.2 775.7 352.3 875.56Z"/>
<path d="M352.3 875.56Q216.2 775.7 61.62 707.89L65.59 699.48Q216.2 775.7 347.47 881.83Z"/>
<path d="M347.47 881.83Q216.2 775.7 197.63 607.92L202.26 607.48Q216.2 775.7 342.35 887.86Z"/>
</g>
<g fill="#a468b4" stroke="#a468b4" stroke-width="0.2">
<path d="M342.35 887.86Q216.2 775.7 183.84 610.03L188.42 609.2Q216.2 775.7 336.95 893.65Z"/>
<path d="M336.95 893.65Q216.2 775.7 193.01 608.5L197.63 607.92Q216.2 775.7 331.29 899.18Z"/>
</g>
<g fill="#f4a893" stroke="#f4a893" stroke-width="0.2">
<path d="M331.29 899.18Q216.2 775.7 65.59 699.48L70.01 691.3Q216.2 775.7 325.37 904.44Z"/>
<path d="M325.37 904.44Q216.2 775.7 70.01 691.3L74.89 683.38Q216.2 775.7 319.22 909.42Z"/>
<path d="M319.22 909.42Q216.2 775.7 74.89 683.38L80.19 675.73Q216.2 775.7 312.84 914.1Z"/>
<path d="M312.84 914.1Q216.2 775.7 80.19 675.73L85.9 668.39Q216.2 775.7 306.25 918.48Z"/>
<path d="M306.25 918.48Q216.2 775.7 202.26 607.48L206.9 607.16Q216.2 775.7 299.46 922.54Z"/>
</g>
<g fill="#c92d4c" stroke="#c92d4c" stroke-width="0.2">
<path d="M299.46 922.54Q216.2 775.7 85.9 668.39L92.01 661.37Q216.2 775.7 292.48 926.28Z"/>
<path d="M292.48 926.28Q216.2 775.7 92.01 661.37L98.5 654.71Q216.2 775.7 285.34 929.69Z"/>
<path d="M285.34 929.69Q216.2 775.7 165.81 614.6L170.27 613.27Q216.2 775.7 278.04 932.76Z"/>
<path d="M278.04 932.76Q216.2 775.7 174.76 612.07L179.29 610.99Q216.2 775.7 270.62 935.49Z"/>
</g>
<g fill="#b2657f" stroke="#b2657f" stroke-width="0.2">
<path d="M270.62 935.49Q216.2 775.7 98.5 654.71L105.34 648.41Q216.2 775.7 263.07 937.86Z"/>
<path d="M263.07 937.86Q216.2 775.7 206.9 607.16L211.55 606.96Q216.2 775.7 255.41 939.88Z"/>
</g>
<g fill="#b3f1e3" stroke="#b3f1e3" stroke-width="0.2">
<path d="M255.41 939.88Q216.2 775.7 105.34 648.41L112.52 642.49Q216.2 775.7 247.67 941.54Z"/>
<path d="M247.67 941.54Q216.2 775.7 131.8 629.51L135.86 627.24Q216.2 775.7 239.87 942.83Z"/>
</g>
<g fill="#b2f4f7" stroke="#b2f4f7" stroke-width="0.2">
<path d="M239.87 942.83Q216.2 775.7 112.52 642.49L120.02 636.98Q216.2 775.7 232.01 943.76Z"/>
<path d="M232.01 943.76Q216.2 775.7 120.02 636.98L127.8 631.9Q216.2 775.7 224.11 944.31Z"/>
<path d="M224.11 944.31Q216.2 775.7 211.55 606.96L216.2 606.9Q216.2 775.7 216.2 944.5Z"/>
</g>
</g>
<path d="M216.2 593.7A182 182 0 0 1 298.45 613.34L295.78 618.61A176.1 176.1 0 0 0 216.2 599.6Z" fill="#0b4a8f"/>
<path d="M216.2 599.6A176.1 176.1 0 0 1 295.78 618.61L292.48 625.12A168.8 168.8 0 0 0 216.2 606.9Z" fill="#fff7ec"/>
<path d="M298.45 613.34A182 182 0 0 1 397.75 788.49L391.86 788.08A176.1 176.1 0 0 0 295.78 618.61Z" fill="#c60e1e"/>
<path d="M295.78 618.61A176.1 176.1 0 0 1 391.86 788.08L384.58 787.56A168.8 168.8 0 0 0 292.48 625.12Z" fill="#feebcf"/>
<path d="M397.75 788.49A182 182 0 0 1 389.81 830.32L384.18 828.54A176.1 176.1 0 0 0 391.86 788.08Z" fill="#8b7a2b"/>
<path d="M391.86 788.08A176.1 176.1 0 0 1 384.18 828.54L377.22 826.35A168.8 168.8 0 0 0 384.58 787.56Z" fill="#fdbe87"/>
<path d="M389.81 830.32A182 182 0 0 1 380.44 854.12L375.12 851.58A176.1 176.1 0 0 0 384.18 828.54Z" fill="#2ea57a"/>
<path d="M384.18 828.54A176.1 176.1 0 0 1 375.12 851.58L368.53 848.43A168.8 168.8 0 0 0 377.22 826.35Z" fill="#fca36e"/>
<path d="M380.44 854.12A182 182 0 0 1 352.21 896.63L347.8 892.71A176.1 176.1 0 0 0 375.12 851.58Z" fill="#2b8cb3"/>
<path d="M375.12 851.58A176.1 176.1 0 0 1 347.8 892.71L342.35 887.86A168.8 168.8 0 0 0 368.53 848.43Z" fill="#fa8756"/>
<path d="M352.21 896.63A182 182 0 0 1 340.29 908.84L336.27 904.52A176.1 176.1 0 0 0 347.8 892.71Z" fill="#a468b4"/>
<path d="M347.8 892.71A176.1 176.1 0 0 1 336.27 904.52L331.29 899.18A168.8 168.8 0 0 0 342.35 887.86Z" fill="#f5774f"/>
<path d="M340.29 908.84A182 182 0 0 1 305.97 934.02L303.06 928.89A176.1 176.1 0 0 0 336.27 904.52Z" fill="#f4a893"/>
<path d="M336.27 904.52A176.1 176.1 0 0 1 303.06 928.89L299.46 922.54A168.8 168.8 0 0 0 331.29 899.18Z" fill="#f06749"/>
<path d="M305.97 934.02A182 182 0 0 1 274.87 947.98L272.97 942.4A176.1 176.1 0 0 0 303.06 928.89Z" fill="#c92d4c"/>
<path d="M303.06 928.89A176.1 176.1 0 0 1 272.97 942.4L270.62 935.49A168.8 168.8 0 0 0 299.46 922.54Z" fill="#d42c1d"/>
<path d="M274.87 947.98A182 182 0 0 1 258.48 952.72L257.11 946.98A176.1 176.1 0 0 0 272.97 942.4Z" fill="#b2657f"/>
<path d="M272.97 942.4A176.1 176.1 0 0 1 257.11 946.98L255.41 939.88A168.8 168.8 0 0 0 270.62 935.49Z" fill="#bd0d09"/>
<path d="M258.48 952.72A182 182 0 0 1 241.72 955.9L240.89 950.06A176.1 176.1 0 0 0 257.11 946.98Z" fill="#b3f1e3"/>
<path d="M257.11 946.98A176.1 176.1 0 0 1 240.89 950.06L239.87 942.83A168.8 168.8 0 0 0 255.41 939.88Z" fill="#9c0000"/>
<path d="M241.72 955.9A182 182 0 0 1 216.2 957.7L216.2 951.8A176.1 176.1 0 0 0 240.89 950.06Z" fill="#b2f4f7"/>
<path d="M240.89 950.06A176.1 176.1 0 0 1 216.2 951.8L216.2 944.5A168.8 168.8 0 0 0 239.87 942.83Z" fill="#8b0000"/>
<g stroke="#fff" stroke-width="0.4" stroke-opacity="0.45">
<path d="M216.2 594.9A180.8 180.8 0 0 0 206.24 595.17L206.9 607.16A168.8 168.8 0 0 1 216.2 606.9Z" fill="#fcf0b2"/>
<path d="M206.24 595.17A180.8 180.8 0 0 0 196.31 596L197.63 607.92A168.8 168.8 0 0 1 206.9 607.16Z" fill="#fde7a9"/>
<path d="M196.31 596A180.8 180.8 0 0 0 186.44 597.37L188.42 609.2A168.8 168.8 0 0 1 197.63 607.92Z" fill="#fde0a1"/>
<path d="M186.44 597.37A180.8 180.8 0 0 0 176.66 599.28L179.29 610.99A168.8 168.8 0 0 1 188.42 609.2Z" fill="#fed89a"/>
<path d="M176.66 599.28A180.8 180.8 0 0 0 167 601.72L170.27 613.27A168.8 168.8 0 0 1 179.29 610.99Z" fill="#fecf92"/>
<path d="M167 601.72A180.8 180.8 0 0 0 157.49 604.7L161.39 616.05A168.8 168.8 0 0 1 170.27 613.27Z" fill="#fec88c"/>
<path d="M157.49 604.7A180.8 180.8 0 0 0 148.16 608.19L152.68 619.31A168.8 168.8 0 0 1 161.39 616.05Z" fill="#febf84"/>
<path d="M148.16 608.19A180.8 180.8 0 0 0 139.04 612.19L144.16 623.04A168.8 168.8 0 0 1 152.68 619.31Z" fill="#feb77e"/>
<path d="M139.04 612.19A180.8 180.8 0 0 0 130.15 616.69L135.86 627.24A168.8 168.8 0 0 1 144.16 623.04Z" fill="#feae77"/>
<path d="M130.15 616.69A180.8 180.8 0 0 0 121.52 621.67L127.8 631.9A168.8 168.8 0 0 1 135.86 627.24Z" fill="#fea772"/>
<path d="M121.52 621.67A180.8 180.8 0 0 0 113.18 627.12L120.02 636.98A168.8 168.8 0 0 1 127.8 631.9Z" fill="#fe9d6c"/>
<path d="M113.18 627.12A180.8 180.8 0 0 0 105.15 633.02L112.52 642.49A168.8 168.8 0 0 1 120.02 636.98Z" fill="#fd9668"/>
<path d="M105.15 633.02A180.8 180.8 0 0 0 97.46 639.36L105.34 648.41A168.8 168.8 0 0 1 112.52 642.49Z" fill="#fc8e64"/>
<path d="M97.46 639.36A180.8 180.8 0 0 0 90.13 646.11L98.5 654.71A168.8 168.8 0 0 1 105.34 648.41Z" fill="#fb8560"/>
<path d="M90.13 646.11A180.8 180.8 0 0 0 83.18 653.25L92.01 661.37A168.8 168.8 0 0 1 98.5 654.71Z" fill="#fa7d5e"/>
<path d="M83.18 653.25A180.8 180.8 0 0 0 76.64 660.76L85.9 668.39A168.8 168.8 0 0 1 92.01 661.37Z" fill="#f8745c"/>
<path d="M76.64 660.76A180.8 180.8 0 0 0 70.52 668.62L80.19 675.73A168.8 168.8 0 0 1 85.9 668.39Z" fill="#f66c5c"/>
<path d="M70.52 668.62A180.8 180.8 0 0 0 64.84 676.81L74.89 683.38A168.8 168.8 0 0 1 80.19 675.73Z" fill="#f2645c"/>
<path d="M64.84 676.81A180.8 180.8 0 0 0 59.62 685.3L70.01 691.3A168.8 168.8 0 0 1 74.89 683.38Z" fill="#ef5d5e"/>
<path d="M59.62 685.3A180.8 180.8 0 0 0 54.88 694.06L65.59 699.48A168.8 168.8 0 0 1 70.01 691.3Z" fill="#eb5760"/>
<path d="M54.88 694.06A180.8 180.8 0 0 0 50.63 703.07L61.62 707.89A168.8 168.8 0 0 1 65.59 699.48Z" fill="#e55064"/>
<path d="M50.63 703.07A180.8 180.8 0 0 0 46.88 712.3L58.12 716.51A168.8 168.8 0 0 1 61.62 707.89Z" fill="#e04c67"/>
<path d="M46.88 712.3A180.8 180.8 0 0 0 43.64 721.73L55.1 725.31A168.8 168.8 0 0 1 58.12 716.51Z" fill="#d9466b"/>
<path d="M43.64 721.73A180.8 180.8 0 0 0 40.93 731.32L52.57 734.26A168.8 168.8 0 0 1 55.1 725.31Z" fill="#d3436e"/>
<path d="M40.93 731.32A180.8 180.8 0 0 0 38.75 741.04L50.53 743.34A168.8 168.8 0 0 1 52.57 734.26Z" fill="#cc3f71"/>
<path d="M38.75 741.04A180.8 180.8 0 0 0 37.11 750.87L49 752.51A168.8 168.8 0 0 1 50.53 743.34Z" fill="#c53c74"/>
<path d="M37.11 750.87A180.8 180.8 0 0 0 36.02 760.77L47.98 761.76A168.8 168.8 0 0 1 49 752.51Z" fill="#bf3a77"/>
<path d="M36.02 760.77A180.8 180.8 0 0 0 35.47 770.72L47.46 771.05A168.8 168.8 0 0 1 47.98 761.76Z" fill="#b73779"/>
<path d="M35.47 770.72A180.8 180.8 0 0 0 35.47 780.68L47.46 780.35A168.8 168.8 0 0 1 47.46 771.05Z" fill="#b0357b"/>
<path d="M35.47 780.68A180.8 180.8 0 0 0 36.02 790.63L47.98 789.64A168.8 168.8 0 0 1 47.46 780.35Z" fill="#a8327d"/>
<path d="M36.02 790.63A180.8 180.8 0 0 0 37.11 800.53L49 798.89A168.8 168.8 0 0 1 47.98 789.64Z" fill="#a1307e"/>
<path d="M37.11 800.53A180.8 180.8 0 0 0 38.75 810.36L50.53 808.06A168.8 168.8 0 0 1 49 798.89Z" fill="#992d80"/>
<path d="M38.75 810.36A180.8 180.8 0 0 0 40.93 820.08L52.57 817.14A168.8 168.8 0 0 1 50.53 808.06Z" fill="#932b80"/>
<path d="M40.93 820.08A180.8 180.8 0 0 0 43.64 829.67L55.1 826.09A168.8 168.8 0 0 1 52.57 817.14Z" fill="#8b2981"/>
<path d="M43.64 829.67A180.8 180.8 0 0 0 46.88 839.1L58.12 834.89A168.8 168.8 0 0 1 55.1 826.09Z" fill="#842681"/>
<path d="M46.88 839.1A180.8 180.8 0 0 0 50.63 848.33L61.62 843.51A168.8 168.8 0 0 1 58.12 834.89Z" fill="#7e2482"/>
<path d="M50.63 848.33A180.8 180.8 0 0 0 54.88 857.34L65.59 851.92A168.8 168.8 0 0 1 61.62 843.51Z" fill="#762181"/>
<path d="M54.88 857.34A180.8 180.8 0 0 0 59.62 866.1L70.01 860.1A168.8 168.8 0 0 1 65.59 851.92Z" fill="#701f81"/>
<path d="M59.62 866.1A180.8 180.8 0 0 0 64.84 874.59L74.89 868.02A168.8 168.8 0 0 1 70.01 860.1Z" fill="#681c81"/>
<path d="M64.84 874.59A180.8 180.8 0 0 0 70.52 882.78L80.19 875.67A168.8 168.8 0 0 1 74.89 868.02Z" fill="#621980"/>
<path d="M70.52 882.78A180.8 180.8 0 0 0 76.64 890.64L85.9 883.01A168.8 168.8 0 0 1 80.19 875.67Z" fill="#5a167e"/>
<path d="M76.64 890.64A180.8 180.8 0 0 0 83.18 898.15L92.01 890.03A168.8 168.8 0 0 1 85.9 883.01Z" fill="#54137d"/>
<path d="M83.18 898.15A180.8 180.8 0 0 0 90.13 905.29L98.5 896.69A168.8 168.8 0 0 1 92.01 890.03Z" fill="#4e117b"/>
<path d="M90.13 905.29A180.8 180.8 0 0 0 97.46 912.04L105.34 902.99A168.8 168.8 0 0 1 98.5 896.69Z" fill="#451077"/>
<path d="M97.46 912.04A180.8 180.8 0 0 0 105.15 918.38L112.52 908.91A168.8 168.8 0 0 1 105.34 902.99Z" fill="#3f0f72"/>
<path d="M105.15 918.38A180.8 180.8 0 0 0 113.18 924.28L120.02 914.42A168.8 168.8 0 0 1 112.52 908.91Z" fill="#36106b"/>
<path d="M113.18 924.28A180.8 180.8 0 0 0 121.52 929.73L127.8 919.5A168.8 168.8 0 0 1 120.02 914.42Z" fill="#2f1163"/>
<path d="M121.52 929.73A180.8 180.8 0 0 0 130.15 934.71L135.86 924.16A168.8 168.8 0 0 1 127.8 919.5Z" fill="#271258"/>
<path d="M130.15 934.71A180.8 180.8 0 0 0 139.04 939.21L144.16 928.36A168.8 168.8 0 0 1 135.86 924.16Z" fill="#21114e"/>
<path d="M139.04 939.21A180.8 180.8 0 0 0 148.16 943.21L152.68 932.09A168.8 168.8 0 0 1 144.16 928.36Z" fill="#1c1044"/>
<path d="M148.16 943.21A180.8 180.8 0 0 0 157.49 946.7L161.39 935.35A168.8 168.8 0 0 1 152.68 932.09Z" fill="#150e38"/>
<path d="M157.49 946.7A180.8 180.8 0 0 0 167 949.68L170.27 938.13A168.8 168.8 0 0 1 161.39 935.35Z" fill="#110c2f"/>
<path d="M167 949.68A180.8 180.8 0 0 0 176.66 952.12L179.29 940.41A168.8 168.8 0 0 1 170.27 938.13Z" fill="#0b0924"/>
<path d="M176.66 952.12A180.8 180.8 0 0 0 186.44 954.03L188.42 942.2A168.8 168.8 0 0 1 179.29 940.41Z" fill="#07061c"/>
<path d="M186.44 954.03A180.8 180.8 0 0 0 196.31 955.4L197.63 943.48A168.8 168.8 0 0 1 188.42 942.2Z" fill="#030312"/>
<path d="M196.31 955.4A180.8 180.8 0 0 0 206.24 956.23L206.9 944.24A168.8 168.8 0 0 1 197.63 943.48Z" fill="#020109"/>
<path d="M206.24 956.23A180.8 180.8 0 0 0 216.2 956.5L216.2 944.5A168.8 168.8 0 0 1 206.9 944.24Z" fill="#000004"/>
</g>
<path d="M216.2 606.9A168.8 168.8 0 0 0 216.2 944.5" fill="none" stroke="#fff" stroke-width="0.9"/>
<g font-family='"Liberation Serif", serif' font-size="7.5" text-anchor="end" fill="#1a1a1a" stroke="#1a1a1a" stroke-width="0.22">
<text transform="translate(211.18 593.57) rotate(88.42)" dy="0.32em">IL18</text>
<text transform="translate(201.15 594.12) rotate(85.26)" dy="0.32em">SCN3A</text>
<text transform="translate(191.17 595.23) rotate(82.11)" dy="0.32em">NPR2</text>
<text transform="translate(181.27 596.88) rotate(78.95)" dy="0.32em">NPPC</text>
<text transform="translate(171.47 599.08) rotate(75.79)" dy="0.32em">GALR2</text>
<text transform="translate(161.81 601.81) rotate(72.63)" dy="0.32em">FSHR</text>
<text transform="translate(152.31 605.07) rotate(69.47)" dy="0.32em">CCKBR</text>
<text transform="translate(143.01 608.85) rotate(66.32)" dy="0.32em">GPR32</text>
<text transform="translate(133.93 613.13) rotate(63.16)" dy="0.32em">ADRA1B</text>
<text transform="translate(125.1 617.91) rotate(60)" dy="0.32em">FAT4</text>
<text transform="translate(116.55 623.17) rotate(56.84)" dy="0.32em">ANKRD2</text>
<text transform="translate(108.29 628.89) rotate(53.68)" dy="0.32em">CSRP3</text>
<text transform="translate(100.37 635.06) rotate(50.53)" dy="0.32em">SDC2</text>
<text transform="translate(92.8 641.65) rotate(47.37)" dy="0.32em">IL1RAP</text>
<text transform="translate(85.6 648.65) rotate(44.21)" dy="0.32em">UCN2</text>
<text transform="translate(78.8 656.04) rotate(41.05)" dy="0.32em">GPR78</text>
<text transform="translate(72.42 663.79) rotate(37.89)" dy="0.32em">SLC4A11</text>
<text transform="translate(66.47 671.88) rotate(34.74)" dy="0.32em">SLC23A1</text>
<text transform="translate(60.98 680.29) rotate(31.58)" dy="0.32em">SCNN1D</text>
<text transform="translate(55.96 688.98) rotate(28.42)" dy="0.32em">SLC5A4</text>
<text transform="translate(51.43 697.94) rotate(25.26)" dy="0.32em">KCNK17</text>
<text transform="translate(47.39 707.14) rotate(22.11)" dy="0.32em">KCND1</text>
<text transform="translate(43.87 716.54) rotate(18.95)" dy="0.32em">CALHM1</text>
<text transform="translate(40.87 726.12) rotate(15.79)" dy="0.32em">KCNG2</text>
<text transform="translate(38.41 735.86) rotate(12.63)" dy="0.32em">KCNH3</text>
<text transform="translate(36.48 745.71) rotate(9.47)" dy="0.32em">GUCA2B</text>
<text transform="translate(35.11 755.66) rotate(6.32)" dy="0.32em">P2RY2</text>
<text transform="translate(34.28 765.66) rotate(3.16)" dy="0.32em">GPRC5D</text>
<text transform="translate(34 775.7) rotate(0)" dy="0.32em">VN1R4</text>
<text transform="translate(34.28 785.74) rotate(-3.16)" dy="0.32em">OPN1SW</text>
<text transform="translate(35.11 795.74) rotate(-6.32)" dy="0.32em">TAS2R38</text>
<text transform="translate(36.48 805.69) rotate(-9.47)" dy="0.32em">GPR50</text>
<text transform="translate(38.41 815.54) rotate(-12.63)" dy="0.32em">TAAR5</text>
<text transform="translate(40.87 825.28) rotate(-15.79)" dy="0.32em">HTR1A</text>
<text transform="translate(43.87 834.86) rotate(-18.95)" dy="0.32em">OR1F1</text>
<text transform="translate(47.39 844.26) rotate(-22.11)" dy="0.32em">GNRHR2</text>
<text transform="translate(51.43 853.46) rotate(-25.26)" dy="0.32em">OXGR1</text>
<text transform="translate(55.96 862.42) rotate(-28.42)" dy="0.32em">TAS2R5</text>
<text transform="translate(60.98 871.11) rotate(-31.58)" dy="0.32em">PRLH</text>
<text transform="translate(66.47 879.52) rotate(-34.74)" dy="0.32em">CCL19</text>
<text transform="translate(72.42 887.61) rotate(-37.89)" dy="0.32em">TAS1R1</text>
<text transform="translate(78.8 895.36) rotate(-41.05)" dy="0.32em">PROKR2</text>
<text transform="translate(85.6 902.75) rotate(-44.21)" dy="0.32em">MLN</text>
<text transform="translate(92.8 909.75) rotate(-47.37)" dy="0.32em">GPR45</text>
<text transform="translate(100.37 916.34) rotate(-50.53)" dy="0.32em">SUCNR1</text>
<text transform="translate(108.29 922.51) rotate(-53.68)" dy="0.32em">TAS2R41</text>
<text transform="translate(116.55 928.23) rotate(-56.84)" dy="0.32em">OR2C1</text>
<text transform="translate(125.1 933.49) rotate(-60)" dy="0.32em">OR10J1</text>
<text transform="translate(133.93 938.27) rotate(-63.16)" dy="0.32em">PCDH18</text>
<text transform="translate(143.01 942.55) rotate(-66.32)" dy="0.32em">CDH17</text>
<text transform="translate(152.31 946.33) rotate(-69.47)" dy="0.32em">PCDH19</text>
<text transform="translate(161.81 949.59) rotate(-72.63)" dy="0.32em">PCDHB12</text>
<text transform="translate(171.47 952.32) rotate(-75.79)" dy="0.32em">FAT2</text>
<text transform="translate(181.27 954.52) rotate(-78.95)" dy="0.32em">PCDHGA3</text>
<text transform="translate(191.17 956.17) rotate(-82.11)" dy="0.32em">PCDHB3</text>
<text transform="translate(201.15 957.28) rotate(-85.26)" dy="0.32em">PCDHGA8</text>
<text transform="translate(211.18 957.83) rotate(-88.42)" dy="0.32em">PCDHGA10</text>
</g>
<defs><linearGradient id="gb" x1="0" x2="1" y1="0" y2="0"><stop offset="0%" stop-color="#fff7ec"/><stop offset="12%" stop-color="#fee8c8"/><stop offset="25%" stop-color="#fdd49e"/><stop offset="37%" stop-color="#fdbb84"/><stop offset="50%" stop-color="#fc8d59"/><stop offset="62%" stop-color="#ef6548"/><stop offset="75%" stop-color="#d7301f"/><stop offset="87%" stop-color="#b30000"/><stop offset="100%" stop-color="#7f0000"/></linearGradient></defs>
<rect x="404.5" y="606.5" width="89" height="11" fill="url(#gb)"/>
<g font-family='"Liberation Serif", serif' fill="#222" stroke="#222" stroke-width="0.15">
<text x="447" y="600.5" font-size="7.6" text-anchor="middle">pvalue</text>
<path d="M404.9 618V622" stroke="#222" stroke-width="0.7"/>
<path d="M419.5 618V622" stroke="#222" stroke-width="0.7"/>
<path d="M437.5 618V622" stroke="#222" stroke-width="0.7"/>
<path d="M455.5 618V622" stroke="#222" stroke-width="0.7"/>
<path d="M473.5 618V622" stroke="#222" stroke-width="0.7"/>
<path d="M493.1 618V622" stroke="#222" stroke-width="0.7"/>
<text x="419.5" y="625.2" font-size="7.2" text-anchor="middle">0.01</text>
<text x="437.5" y="625.2" font-size="7.2" text-anchor="middle">0.02</text>
<text x="455.5" y="625.2" font-size="7.2" text-anchor="middle">0.03</text>
<text x="473.5" y="625.2" font-size="7.2" text-anchor="middle">0.04</text>
<text x="405.2" y="641.5" font-size="7.6">Pathway</text>
<circle cx="408.5" cy="647.1" r="3.9" fill="#0b4a8f" stroke="none"/>
<text x="413.8" y="649.36" font-size="7.54">GO:0007156~homophilic cell adhesion via plasma membrane adhesion molecules</text>
<circle cx="408.5" cy="655.27" r="3.9" fill="#c60e1e" stroke="none"/>
<text x="413.8" y="657.53" font-size="7.54">GO:0007186~G-protein coupled receptor signaling pathway</text>
<circle cx="408.5" cy="663.44" r="3.9" fill="#8b7a2b" stroke="none"/>
<text x="413.8" y="665.7" font-size="7.54">GO:0007200~phospholipase C-activating G-protein coupled receptor signaling pathway</text>
<circle cx="408.5" cy="671.61" r="3.9" fill="#2ea57a" stroke="none"/>
<text x="413.8" y="673.87" font-size="7.54">GO:0006182~cGMP biosynthetic process</text>
<circle cx="408.5" cy="679.78" r="3.9" fill="#2b8cb3" stroke="none"/>
<text x="413.8" y="682.04" font-size="7.54">GO:0034765~regulation of ion transmembrane transport</text>
<circle cx="408.5" cy="687.95" r="3.9" fill="#a468b4" stroke="none"/>
<text x="413.8" y="690.21" font-size="7.54">GO:0044702~single organism reproductive process</text>
<circle cx="408.5" cy="696.12" r="3.9" fill="#f4a893" stroke="none"/>
<text x="413.8" y="698.38" font-size="7.54">GO:0006814~sodium ion transport</text>
<circle cx="408.5" cy="704.29" r="3.9" fill="#c92d4c" stroke="none"/>
<text x="413.8" y="706.55" font-size="7.54">GO:0007189~adenylate cyclase-activating G-protein coupled receptor signaling pathway</text>
<circle cx="408.5" cy="712.46" r="3.9" fill="#b2657f" stroke="none"/>
<text x="413.8" y="714.72" font-size="7.54">GO:0042094~interleukin-2 biosynthetic process</text>
<circle cx="408.5" cy="720.63" r="3.9" fill="#b3f1e3" stroke="none"/>
<text x="413.8" y="722.89" font-size="7.54">GO:0072137~condensed mesenchymal cell proliferation</text>
<circle cx="408.5" cy="728.8" r="3.9" fill="#b2f4f7" stroke="none"/>
<text x="413.8" y="731.06" font-size="7.54">GO:0045662~negative regulation of myoblast differentiation</text>
</g>
</g>
<g>
<g>
<g fill="#0b4a8f" stroke="#0b4a8f" stroke-width="0.35">
<path d="M228.3 1101.5Q228.3 1280.3 56.02 1328.13L54.79 1323.45Q228.3 1280.3 232.26 1101.54Z"/>
<path d="M232.26 1101.54Q228.3 1280.3 53.68 1318.74L52.7 1313.99Q228.3 1280.3 236.22 1101.68Z"/>
<path d="M236.22 1101.68Q228.3 1280.3 51.86 1309.23L51.14 1304.44Q228.3 1280.3 240.17 1101.89Z"/>
<path d="M240.17 1101.89Q228.3 1280.3 50.55 1299.63L50.09 1294.81Q228.3 1280.3 244.12 1102.2Z"/>
<path d="M244.12 1102.2Q228.3 1280.3 49.76 1289.98L49.57 1285.14Q228.3 1280.3 248.06 1102.59Z"/>
<path d="M248.06 1102.59Q228.3 1280.3 49.5 1280.3L49.57 1275.46Q228.3 1280.3 251.99 1103.08Z"/>
<path d="M251.99 1103.08Q228.3 1280.3 49.76 1270.62L50.09 1265.79Q228.3 1280.3 255.9 1103.64Z"/>
<path d="M255.9 1103.64Q228.3 1280.3 62.2 1214.12L63.42 1211.13Q228.3 1280.3 259.81 1104.3Z"/>
<path d="M259.81 1104.3Q228.3 1280.3 75.09 1188.12L76.36 1186.05Q228.3 1280.3 263.7 1105.04Z"/>
<path d="M263.7 1105.04Q228.3 1280.3 80.31 1179.96L81.68 1177.97Q228.3 1280.3 267.57 1105.87Z"/>
<path d="M267.57 1105.87Q228.3 1280.3 85.96 1172.09L87.44 1170.18Q228.3 1280.3 271.42 1106.78Z"/>
<path d="M271.42 1106.78Q228.3 1280.3 92.03 1164.55L93.61 1162.71Q228.3 1280.3 275.25 1107.78Z"/>
<path d="M275.25 1107.78Q228.3 1280.3 98.49 1157.34L100.17 1155.59Q228.3 1280.3 279.06 1108.86Z"/>
<path d="M279.06 1108.86Q228.3 1280.3 136.12 1127.09L137.78 1126.1Q228.3 1280.3 282.85 1110.02Z"/>
<path d="M282.85 1110.02Q228.3 1280.3 144.55 1122.33L146.26 1121.43Q228.3 1280.3 286.6 1111.27Z"/>
<path d="M286.6 1111.27Q228.3 1280.3 153.22 1118.03L154.99 1117.22Q228.3 1280.3 290.33 1112.61Z"/>
</g>
<g fill="#6b2559" stroke="#6b2559" stroke-width="0.35">
<path d="M290.33 1112.61Q228.3 1280.3 54.79 1323.45L53.68 1318.74Q228.3 1280.3 294.01 1114.01Z"/>
<path d="M294.01 1114.01Q228.3 1280.3 52.7 1313.99L51.86 1309.23Q228.3 1280.3 297.66 1115.5Z"/>
<path d="M297.66 1115.5Q228.3 1280.3 51.14 1304.44L50.55 1299.63Q228.3 1280.3 301.27 1117.07Z"/>
<path d="M301.27 1117.07Q228.3 1280.3 50.09 1294.81L49.76 1289.98Q228.3 1280.3 304.85 1118.72Z"/>
<path d="M304.85 1118.72Q228.3 1280.3 49.57 1285.14L49.5 1280.3Q228.3 1280.3 308.39 1120.44Z"/>
<path d="M308.39 1120.44Q228.3 1280.3 49.57 1275.46L49.76 1270.62Q228.3 1280.3 311.9 1122.25Z"/>
<path d="M311.9 1122.25Q228.3 1280.3 50.09 1265.79L50.55 1260.97Q228.3 1280.3 315.36 1124.13Z"/>
<path d="M315.36 1124.13Q228.3 1280.3 63.42 1211.13L64.7 1208.17Q228.3 1280.3 318.78 1126.08Z"/>
<path d="M318.78 1126.08Q228.3 1280.3 76.36 1186.05L77.65 1184Q228.3 1280.3 322.15 1128.11Z"/>
<path d="M322.15 1128.11Q228.3 1280.3 81.68 1177.97L83.08 1175.99Q228.3 1280.3 325.49 1130.22Z"/>
<path d="M325.49 1130.22Q228.3 1280.3 87.44 1170.18L88.94 1168.28Q228.3 1280.3 328.77 1132.4Z"/>
<path d="M328.77 1132.4Q228.3 1280.3 93.61 1162.71L95.21 1160.9Q228.3 1280.3 332 1134.65Z"/>
<path d="M332 1134.65Q228.3 1280.3 100.17 1155.59L101.87 1153.87Q228.3 1280.3 335.19 1136.97Z"/>
<path d="M335.19 1136.97Q228.3 1280.3 137.78 1126.1L139.46 1125.13Q228.3 1280.3 338.32 1139.36Z"/>
<path d="M338.32 1139.36Q228.3 1280.3 146.26 1121.43L147.99 1120.55Q228.3 1280.3 341.4 1141.81Z"/>
<path d="M341.4 1141.81Q228.3 1280.3 154.99 1117.22L156.76 1116.44Q228.3 1280.3 344.42 1144.34Z"/>
</g>
<g fill="#d8121f" stroke="#d8121f" stroke-width="0.35">
<path d="M344.42 1144.34Q228.3 1280.3 189.86 1105.68L191.05 1105.42Q228.3 1280.3 347.01 1146.59Z"/>
<path d="M347.01 1146.59Q228.3 1280.3 199.37 1103.86L200.57 1103.66Q228.3 1280.3 349.55 1148.9Z"/>
<path d="M349.55 1148.9Q228.3 1280.3 208.97 1102.55L210.17 1102.42Q228.3 1280.3 352.06 1151.25Z"/>
<path d="M352.06 1151.25Q228.3 1280.3 218.62 1101.76L219.83 1101.7Q228.3 1280.3 354.51 1153.65Z"/>
</g>
<g fill="#b8542a" stroke="#b8542a" stroke-width="0.35">
<path d="M354.51 1153.65Q228.3 1280.3 228.3 1459.1L218.62 1458.84Q228.3 1280.3 356.96 1156.14Z"/>
<path d="M356.96 1156.14Q228.3 1280.3 218.62 1458.84L208.97 1458.05Q228.3 1280.3 359.36 1158.68Z"/>
<path d="M359.36 1158.68Q228.3 1280.3 208.97 1458.05L199.37 1456.74Q228.3 1280.3 361.72 1161.26Z"/>
<path d="M361.72 1161.26Q228.3 1280.3 50.55 1260.97L51.14 1256.16Q228.3 1280.3 364.02 1163.89Z"/>
<path d="M364.02 1163.89Q228.3 1280.3 51.86 1251.37L52.7 1246.61Q228.3 1280.3 366.27 1166.57Z"/>
</g>
<g fill="#7a9a38" stroke="#7a9a38" stroke-width="0.35">
<path d="M366.27 1166.57Q228.3 1280.3 162.12 1114.2L163.62 1113.61Q228.3 1280.3 368.54 1169.38Z"/>
<path d="M368.54 1169.38Q228.3 1280.3 171.21 1110.86L172.74 1110.35Q228.3 1280.3 370.75 1172.23Z"/>
<path d="M370.75 1172.23Q228.3 1280.3 180.47 1108.02L182.02 1107.59Q228.3 1280.3 372.9 1175.13Z"/>
<path d="M372.9 1175.13Q228.3 1280.3 191.05 1105.42L192.23 1105.18Q228.3 1280.3 374.99 1178.07Z"/>
<path d="M374.99 1178.07Q228.3 1280.3 200.57 1103.66L201.77 1103.48Q228.3 1280.3 377.03 1181.06Z"/>
<path d="M377.03 1181.06Q228.3 1280.3 210.17 1102.42L211.38 1102.3Q228.3 1280.3 379 1184.08Z"/>
<path d="M379 1184.08Q228.3 1280.3 219.83 1101.7L221.04 1101.65Q228.3 1280.3 380.91 1187.14Z"/>
</g>
<g fill="#3aa85a" stroke="#3aa85a" stroke-width="0.35">
<path d="M380.91 1187.14Q228.3 1280.3 199.37 1456.74L189.86 1454.92Q228.3 1280.3 382.72 1190.17Z"/>
<path d="M382.72 1190.17Q228.3 1280.3 189.86 1454.92L180.47 1452.58Q228.3 1280.3 384.47 1193.23Z"/>
<path d="M384.47 1193.23Q228.3 1280.3 77.65 1184L78.96 1181.97Q228.3 1280.3 386.16 1196.33Z"/>
<path d="M386.16 1196.33Q228.3 1280.3 83.08 1175.99L84.51 1174.03Q228.3 1280.3 387.78 1199.46Z"/>
<path d="M387.78 1199.46Q228.3 1280.3 88.94 1168.28L90.47 1166.4Q228.3 1280.3 389.34 1202.62Z"/>
<path d="M389.34 1202.62Q228.3 1280.3 95.21 1160.9L96.84 1159.11Q228.3 1280.3 390.85 1205.81Z"/>
<path d="M390.85 1205.81Q228.3 1280.3 101.87 1153.87L103.59 1152.17Q228.3 1280.3 392.28 1209.03Z"/>
<path d="M392.28 1209.03Q228.3 1280.3 139.46 1125.13L141.15 1124.18Q228.3 1280.3 393.66 1212.28Z"/>
<path d="M393.66 1212.28Q228.3 1280.3 147.99 1120.55L149.73 1119.69Q228.3 1280.3 394.97 1215.55Z"/>
<path d="M394.97 1215.55Q228.3 1280.3 156.76 1116.44L158.54 1115.67Q228.3 1280.3 396.21 1218.85Z"/>
</g>
<g fill="#26a08a" stroke="#26a08a" stroke-width="0.35">
<path d="M396.21 1218.85Q228.3 1280.3 78.96 1181.97L80.31 1179.96Q228.3 1280.3 397.5 1222.49Z"/>
<path d="M397.5 1222.49Q228.3 1280.3 84.51 1174.03L85.96 1172.09Q228.3 1280.3 398.71 1226.16Z"/>
<path d="M398.71 1226.16Q228.3 1280.3 90.47 1166.4L92.03 1164.55Q228.3 1280.3 399.84 1229.85Z"/>
<path d="M399.84 1229.85Q228.3 1280.3 96.84 1159.11L98.49 1157.34Q228.3 1280.3 400.89 1233.57Z"/>
<path d="M400.89 1233.57Q228.3 1280.3 103.59 1152.17L105.34 1150.49Q228.3 1280.3 401.85 1237.31Z"/>
<path d="M401.85 1237.31Q228.3 1280.3 141.15 1124.18L142.84 1123.24Q228.3 1280.3 402.74 1241.07Z"/>
<path d="M402.74 1241.07Q228.3 1280.3 149.73 1119.69L151.47 1118.85Q228.3 1280.3 403.55 1244.84Z"/>
<path d="M403.55 1244.84Q228.3 1280.3 158.54 1115.67L160.32 1114.93Q228.3 1280.3 404.27 1248.64Z"/>
</g>
<g fill="#2a8cb4" stroke="#2a8cb4" stroke-width="0.35">
<path d="M404.27 1248.64Q228.3 1280.3 180.47 1452.58L171.21 1449.74Q228.3 1280.3 404.77 1251.56Z"/>
<path d="M404.77 1251.56Q228.3 1280.3 171.21 1449.74L162.12 1446.4Q228.3 1280.3 405.23 1254.49Z"/>
<path d="M405.23 1254.49Q228.3 1280.3 120.09 1137.96L122.68 1136.03Q228.3 1280.3 405.63 1257.43Z"/>
<path d="M405.63 1257.43Q228.3 1280.3 127.96 1132.31L130.65 1130.52Q228.3 1280.3 405.99 1260.37Z"/>
</g>
<g fill="#5a80b8" stroke="#5a80b8" stroke-width="0.35">
<path d="M405.99 1260.37Q228.3 1280.3 163.62 1113.61L165.13 1113.03Q228.3 1280.3 406.34 1263.78Z"/>
<path d="M406.34 1263.78Q228.3 1280.3 172.74 1110.35L174.28 1109.86Q228.3 1280.3 406.62 1267.21Z"/>
<path d="M406.62 1267.21Q228.3 1280.3 182.02 1107.59L183.58 1107.18Q228.3 1280.3 406.84 1270.63Z"/>
<path d="M406.84 1270.63Q228.3 1280.3 192.23 1105.18L193.42 1104.94Q228.3 1280.3 406.99 1274.06Z"/>
<path d="M406.99 1274.06Q228.3 1280.3 201.77 1103.48L202.96 1103.3Q228.3 1280.3 407.08 1277.49Z"/>
<path d="M407.08 1277.49Q228.3 1280.3 211.38 1102.3L212.58 1102.19Q228.3 1280.3 407.1 1280.92Z"/>
<path d="M407.1 1280.92Q228.3 1280.3 221.04 1101.65L222.25 1101.6Q228.3 1280.3 407.05 1284.36Z"/>
</g>
<g fill="#a063b2" stroke="#a063b2" stroke-width="0.35">
<path d="M407.05 1284.36Q228.3 1280.3 193.42 1104.94L194.61 1104.7Q228.3 1280.3 406.94 1287.79Z"/>
<path d="M406.94 1287.79Q228.3 1280.3 202.96 1103.3L204.16 1103.14Q228.3 1280.3 406.77 1291.22Z"/>
<path d="M406.77 1291.22Q228.3 1280.3 212.58 1102.19L213.79 1102.09Q228.3 1280.3 406.52 1294.64Z"/>
<path d="M406.52 1294.64Q228.3 1280.3 222.25 1101.6L223.46 1101.57Q228.3 1280.3 406.22 1298.06Z"/>
</g>
<g fill="#c98aa3" stroke="#c98aa3" stroke-width="0.35">
<path d="M406.22 1298.06Q228.3 1280.3 162.12 1446.4L153.22 1442.57Q228.3 1280.3 405.8 1301.82Z"/>
<path d="M405.8 1301.82Q228.3 1280.3 153.22 1442.57L144.55 1438.27Q228.3 1280.3 405.31 1305.57Z"/>
<path d="M405.31 1305.57Q228.3 1280.3 144.55 1438.27L136.12 1433.51Q228.3 1280.3 404.73 1309.31Z"/>
<path d="M404.73 1309.31Q228.3 1280.3 136.12 1433.51L127.96 1428.29Q228.3 1280.3 404.08 1313.04Z"/>
<path d="M404.08 1313.04Q228.3 1280.3 127.96 1428.29L120.09 1422.64Q228.3 1280.3 403.35 1316.75Z"/>
<path d="M403.35 1316.75Q228.3 1280.3 120.09 1422.64L112.55 1416.57Q228.3 1280.3 402.53 1320.45Z"/>
<path d="M402.53 1320.45Q228.3 1280.3 112.55 1416.57L105.34 1410.11Q228.3 1280.3 401.65 1324.12Z"/>
<path d="M401.65 1324.12Q228.3 1280.3 66.03 1205.22L67.41 1202.31Q228.3 1280.3 400.68 1327.78Z"/>
</g>
<g fill="#f6a892" stroke="#f6a892" stroke-width="0.35">
<path d="M400.68 1327.78Q228.3 1280.3 70.33 1196.55L71.87 1193.71Q228.3 1280.3 399.72 1331.15Z"/>
<path d="M399.72 1331.15Q228.3 1280.3 105.34 1150.49L107.11 1148.84Q228.3 1280.3 398.69 1334.5Z"/>
<path d="M398.69 1334.5Q228.3 1280.3 165.13 1113.03L166.64 1112.47Q228.3 1280.3 397.59 1337.82Z"/>
<path d="M397.59 1337.82Q228.3 1280.3 174.28 1109.86L175.82 1109.38Q228.3 1280.3 396.44 1341.13Z"/>
<path d="M396.44 1341.13Q228.3 1280.3 183.58 1107.18L185.15 1106.79Q228.3 1280.3 395.21 1344.41Z"/>
<path d="M395.21 1344.41Q228.3 1280.3 194.61 1104.7L195.8 1104.48Q228.3 1280.3 393.92 1347.67Z"/>
<path d="M393.92 1347.67Q228.3 1280.3 204.16 1103.14L205.36 1102.98Q228.3 1280.3 392.57 1350.9Z"/>
<path d="M392.57 1350.9Q228.3 1280.3 213.79 1102.09L215 1102Q228.3 1280.3 391.16 1354.1Z"/>
<path d="M391.16 1354.1Q228.3 1280.3 223.46 1101.57L224.67 1101.54Q228.3 1280.3 389.68 1357.28Z"/>
</g>
<g fill="#e27272" stroke="#e27272" stroke-width="0.35">
<path d="M389.68 1357.28Q228.3 1280.3 105.34 1410.11L98.49 1403.26Q228.3 1280.3 388.03 1360.64Z"/>
<path d="M388.03 1360.64Q228.3 1280.3 122.68 1136.03L125.3 1134.14Q228.3 1280.3 386.32 1363.97Z"/>
<path d="M386.32 1363.97Q228.3 1280.3 130.65 1130.52L133.37 1128.78Q228.3 1280.3 384.53 1367.26Z"/>
</g>
<g fill="#c8213c" stroke="#c8213c" stroke-width="0.35">
<path d="M384.53 1367.26Q228.3 1280.3 142.84 1123.24L144.55 1122.33Q228.3 1280.3 382.57 1370.69Z"/>
<path d="M382.57 1370.69Q228.3 1280.3 151.47 1118.85L153.22 1118.03Q228.3 1280.3 380.53 1374.08Z"/>
<path d="M380.53 1374.08Q228.3 1280.3 160.32 1114.93L162.12 1114.2Q228.3 1280.3 378.42 1377.42Z"/>
</g>
<g fill="#b8375c" stroke="#b8375c" stroke-width="0.35">
<path d="M378.42 1377.42Q228.3 1280.3 53.68 1241.86L54.79 1237.15Q228.3 1280.3 376.39 1380.49Z"/>
<path d="M376.39 1380.49Q228.3 1280.3 56.02 1232.47L57.38 1227.82Q228.3 1280.3 374.3 1383.51Z"/>
<path d="M374.3 1383.51Q228.3 1280.3 58.86 1223.21L60.47 1218.64Q228.3 1280.3 372.15 1386.49Z"/>
<path d="M372.15 1386.49Q228.3 1280.3 67.41 1202.31L68.84 1199.41Q228.3 1280.3 369.93 1389.43Z"/>
<path d="M369.93 1389.43Q228.3 1280.3 71.87 1193.71L73.45 1190.9Q228.3 1280.3 367.66 1392.32Z"/>
<path d="M367.66 1392.32Q228.3 1280.3 107.11 1148.84L108.9 1147.21Q228.3 1280.3 365.33 1395.16Z"/>
<path d="M365.33 1395.16Q228.3 1280.3 112.55 1144.03L115.03 1141.96Q228.3 1280.3 362.93 1397.96Z"/>
<path d="M362.93 1397.96Q228.3 1280.3 166.64 1112.47L168.16 1111.92Q228.3 1280.3 360.49 1400.7Z"/>
<path d="M360.49 1400.7Q228.3 1280.3 175.82 1109.38L177.36 1108.91Q228.3 1280.3 357.98 1403.39Z"/>
<path d="M357.98 1403.39Q228.3 1280.3 185.15 1106.79L186.72 1106.4Q228.3 1280.3 355.42 1406.04Z"/>
<path d="M355.42 1406.04Q228.3 1280.3 195.8 1104.48L196.99 1104.26Q228.3 1280.3 352.81 1408.62Z"/>
<path d="M352.81 1408.62Q228.3 1280.3 205.36 1102.98L206.56 1102.83Q228.3 1280.3 350.14 1411.16Z"/>
<path d="M350.14 1411.16Q228.3 1280.3 215 1102L216.2 1101.91Q228.3 1280.3 347.43 1413.64Z"/>
<path d="M347.43 1413.64Q228.3 1280.3 224.67 1101.54L225.88 1101.52Q228.3 1280.3 344.66 1416.06Z"/>
</g>
<g fill="#b98a9c" stroke="#b98a9c" stroke-width="0.35">
<path d="M344.66 1416.06Q228.3 1280.3 54.79 1237.15L56.02 1232.47Q228.3 1280.3 341.91 1418.37Z"/>
<path d="M341.91 1418.37Q228.3 1280.3 57.38 1227.82L58.86 1223.21Q228.3 1280.3 339.12 1420.62Z"/>
<path d="M339.12 1420.62Q228.3 1280.3 60.47 1218.64L62.2 1214.12Q228.3 1280.3 336.28 1422.81Z"/>
<path d="M336.28 1422.81Q228.3 1280.3 68.84 1199.41L70.33 1196.55Q228.3 1280.3 333.4 1424.95Z"/>
<path d="M333.4 1424.95Q228.3 1280.3 73.45 1190.9L75.09 1188.12Q228.3 1280.3 330.47 1427.03Z"/>
<path d="M330.47 1427.03Q228.3 1280.3 108.9 1147.21L110.71 1145.61Q228.3 1280.3 327.51 1429.05Z"/>
<path d="M327.51 1429.05Q228.3 1280.3 115.03 1141.96L117.54 1139.94Q228.3 1280.3 324.5 1431.01Z"/>
<path d="M324.5 1431.01Q228.3 1280.3 168.16 1111.92L169.68 1111.38Q228.3 1280.3 321.46 1432.91Z"/>
<path d="M321.46 1432.91Q228.3 1280.3 177.36 1108.91L178.91 1108.46Q228.3 1280.3 318.37 1434.75Z"/>
<path d="M318.37 1434.75Q228.3 1280.3 186.72 1106.4L188.29 1106.03Q228.3 1280.3 315.26 1436.53Z"/>
<path d="M315.26 1436.53Q228.3 1280.3 196.99 1104.26L198.18 1104.06Q228.3 1280.3 312.1 1438.24Z"/>
<path d="M312.1 1438.24Q228.3 1280.3 206.56 1102.83L207.77 1102.68Q228.3 1280.3 308.92 1439.89Z"/>
<path d="M308.92 1439.89Q228.3 1280.3 216.2 1101.91L217.41 1101.83Q228.3 1280.3 305.7 1441.48Z"/>
<path d="M305.7 1441.48Q228.3 1280.3 225.88 1101.52L227.09 1101.5Q228.3 1280.3 302.45 1443Z"/>
</g>
<g fill="#b5ddd5" stroke="#b5ddd5" stroke-width="0.35">
<path d="M302.45 1443Q228.3 1280.3 125.3 1134.14L127.96 1132.31Q228.3 1280.3 300.03 1444.08Z"/>
<path d="M300.03 1444.08Q228.3 1280.3 133.37 1128.78L136.12 1127.09Q228.3 1280.3 297.59 1445.13Z"/>
</g>
<g fill="#b2f4f7" stroke="#b2f4f7" stroke-width="0.35">
<path d="M297.59 1445.13Q228.3 1280.3 98.49 1403.26L92.03 1396.05Q228.3 1280.3 294.44 1446.42Z"/>
<path d="M294.44 1446.42Q228.3 1280.3 92.03 1396.05L85.96 1388.51Q228.3 1280.3 291.26 1447.65Z"/>
<path d="M291.26 1447.65Q228.3 1280.3 110.71 1145.61L112.55 1144.03Q228.3 1280.3 288.06 1448.82Z"/>
<path d="M288.06 1448.82Q228.3 1280.3 117.54 1139.94L120.09 1137.96Q228.3 1280.3 284.85 1449.92Z"/>
<path d="M284.85 1449.92Q228.3 1280.3 169.68 1111.38L171.21 1110.86Q228.3 1280.3 281.61 1450.97Z"/>
<path d="M281.61 1450.97Q228.3 1280.3 178.91 1108.46L180.47 1108.02Q228.3 1280.3 278.35 1451.95Z"/>
<path d="M278.35 1451.95Q228.3 1280.3 188.29 1106.03L189.86 1105.68Q228.3 1280.3 275.07 1452.87Z"/>
<path d="M275.07 1452.87Q228.3 1280.3 198.18 1104.06L199.37 1103.86Q228.3 1280.3 271.78 1453.73Z"/>
<path d="M271.78 1453.73Q228.3 1280.3 207.77 1102.68L208.97 1102.55Q228.3 1280.3 268.47 1454.53Z"/>
<path d="M268.47 1454.53Q228.3 1280.3 217.41 1101.83L218.62 1101.76Q228.3 1280.3 265.14 1455.26Z"/>
<path d="M265.14 1455.26Q228.3 1280.3 227.09 1101.5L228.3 1101.5Q228.3 1280.3 261.8 1455.93Z"/>
</g>
<g fill="#b2f4f7" stroke="#b2f4f7" stroke-width="0.35">
<path d="M261.8 1455.93Q228.3 1280.3 85.96 1388.51L80.31 1380.64Q228.3 1280.3 258.58 1456.52Z"/>
<path d="M258.58 1456.52Q228.3 1280.3 80.31 1380.64L75.09 1372.48Q228.3 1280.3 255.35 1457.04Z"/>
<path d="M255.35 1457.04Q228.3 1280.3 51.14 1256.16L51.86 1251.37Q228.3 1280.3 252.1 1457.51Z"/>
<path d="M252.1 1457.51Q228.3 1280.3 52.7 1246.61L53.68 1241.86Q228.3 1280.3 248.85 1457.92Z"/>
</g>
<g fill="#b2f4f7" stroke="#b2f4f7" stroke-width="0.35">
<path d="M248.85 1457.92Q228.3 1280.3 75.09 1372.48L70.33 1364.05Q228.3 1280.3 245.44 1458.28Z"/>
<path d="M245.44 1458.28Q228.3 1280.3 70.33 1364.05L66.03 1355.38Q228.3 1280.3 242.02 1458.57Z"/>
<path d="M242.02 1458.57Q228.3 1280.3 66.03 1355.38L62.2 1346.48Q228.3 1280.3 238.59 1458.8Z"/>
<path d="M238.59 1458.8Q228.3 1280.3 62.2 1346.48L58.86 1337.39Q228.3 1280.3 235.16 1458.97Z"/>
<path d="M235.16 1458.97Q228.3 1280.3 58.86 1337.39L56.02 1328.13Q228.3 1280.3 231.73 1459.07Z"/>
<path d="M231.73 1459.07Q228.3 1280.3 64.7 1208.17L66.03 1205.22Q228.3 1280.3 228.3 1459.1Z"/>
</g>
</g>
<path d="M228.3 1088.4A191.9 191.9 0 0 1 294.88 1100.32L292.59 1106.51A185.3 185.3 0 0 0 228.3 1095Z" fill="#0b4a8f"/>
<path d="M228.3 1095A185.3 185.3 0 0 1 292.59 1106.51L290.33 1112.61A178.8 178.8 0 0 0 228.3 1101.5Z" fill="#fff7ec"/>
<path d="M294.88 1100.32A191.9 191.9 0 0 1 352.93 1134.38L348.64 1139.4A185.3 185.3 0 0 0 292.59 1106.51Z" fill="#6b2559"/>
<path d="M292.59 1106.51A185.3 185.3 0 0 1 348.64 1139.4L344.42 1144.34A178.8 178.8 0 0 0 290.33 1112.61Z" fill="#fff7ec"/>
<path d="M352.93 1134.38A191.9 191.9 0 0 1 363.76 1144.37L359.1 1149.04A185.3 185.3 0 0 0 348.64 1139.4Z" fill="#d8121f"/>
<path d="M348.64 1139.4A185.3 185.3 0 0 1 359.1 1149.04L354.51 1153.65A178.8 178.8 0 0 0 344.42 1144.34Z" fill="#fff6e9"/>
<path d="M363.76 1144.37A191.9 191.9 0 0 1 376.37 1158.24L371.28 1162.43A185.3 185.3 0 0 0 359.1 1149.04Z" fill="#b8542a"/>
<path d="M359.1 1149.04A185.3 185.3 0 0 1 371.28 1162.43L366.27 1166.57A178.8 178.8 0 0 0 354.51 1153.65Z" fill="#fff6e9"/>
<path d="M376.37 1158.24A191.9 191.9 0 0 1 392.1 1180.32L386.46 1183.76A185.3 185.3 0 0 0 371.28 1162.43Z" fill="#7a9a38"/>
<path d="M371.28 1162.43A185.3 185.3 0 0 1 386.46 1183.76L380.91 1187.14A178.8 178.8 0 0 0 366.27 1166.57Z" fill="#fff5e6"/>
<path d="M392.1 1180.32A191.9 191.9 0 0 1 408.51 1214.35L402.31 1216.62A185.3 185.3 0 0 0 386.46 1183.76Z" fill="#3aa85a"/>
<path d="M386.46 1183.76A185.3 185.3 0 0 1 402.31 1216.62L396.21 1218.85A178.8 178.8 0 0 0 380.91 1187.14Z" fill="#fff5e6"/>
<path d="M408.51 1214.35A191.9 191.9 0 0 1 417.17 1246.32L410.67 1247.49A185.3 185.3 0 0 0 402.31 1216.62Z" fill="#26a08a"/>
<path d="M402.31 1216.62A185.3 185.3 0 0 1 410.67 1247.49L404.27 1248.64A178.8 178.8 0 0 0 396.21 1218.85Z" fill="#fff5e6"/>
<path d="M417.17 1246.32A191.9 191.9 0 0 1 419 1258.91L412.45 1259.64A185.3 185.3 0 0 0 410.67 1247.49Z" fill="#2a8cb4"/>
<path d="M410.67 1247.49A185.3 185.3 0 0 1 412.45 1259.64L405.99 1260.37A178.8 178.8 0 0 0 404.27 1248.64Z" fill="#fff3e3"/>
<path d="M419 1258.91A191.9 191.9 0 0 1 420.15 1284.65L413.55 1284.5A185.3 185.3 0 0 0 412.45 1259.64Z" fill="#5a80b8"/>
<path d="M412.45 1259.64A185.3 185.3 0 0 1 413.55 1284.5L407.05 1284.36A178.8 178.8 0 0 0 405.99 1260.37Z" fill="#fff3e3"/>
<path d="M420.15 1284.65A191.9 191.9 0 0 1 419.25 1299.36L412.68 1298.7A185.3 185.3 0 0 0 413.55 1284.5Z" fill="#a063b2"/>
<path d="M413.55 1284.5A185.3 185.3 0 0 1 412.68 1298.7L406.22 1298.06A178.8 178.8 0 0 0 407.05 1284.36Z" fill="#fff2e0"/>
<path d="M419.25 1299.36A191.9 191.9 0 0 1 413.31 1331.26L406.95 1329.51A185.3 185.3 0 0 0 412.68 1298.7Z" fill="#c98aa3"/>
<path d="M412.68 1298.7A185.3 185.3 0 0 1 406.95 1329.51L400.68 1327.78A178.8 178.8 0 0 0 406.22 1298.06Z" fill="#fff1de"/>
<path d="M413.31 1331.26A191.9 191.9 0 0 1 401.51 1362.92L395.55 1360.07A185.3 185.3 0 0 0 406.95 1329.51Z" fill="#f6a892"/>
<path d="M406.95 1329.51A185.3 185.3 0 0 1 395.55 1360.07L389.68 1357.28A178.8 178.8 0 0 0 400.68 1327.78Z" fill="#fee6c3"/>
<path d="M401.51 1362.92A191.9 191.9 0 0 1 395.98 1373.63L390.21 1370.42A185.3 185.3 0 0 0 395.55 1360.07Z" fill="#e27272"/>
<path d="M395.55 1360.07A185.3 185.3 0 0 1 390.21 1370.42L384.53 1367.26A178.8 178.8 0 0 0 389.68 1357.28Z" fill="#fdca94"/>
<path d="M395.98 1373.63A191.9 191.9 0 0 1 389.42 1384.54L383.88 1380.95A185.3 185.3 0 0 0 390.21 1370.42Z" fill="#c8213c"/>
<path d="M390.21 1370.42A185.3 185.3 0 0 1 383.88 1380.95L378.42 1377.42A178.8 178.8 0 0 0 384.53 1367.26Z" fill="#fdbe87"/>
<path d="M389.42 1384.54A191.9 191.9 0 0 1 353.18 1426L348.89 1420.99A185.3 185.3 0 0 0 383.88 1380.95Z" fill="#b8375c"/>
<path d="M383.88 1380.95A185.3 185.3 0 0 1 348.89 1420.99L344.66 1416.06A178.8 178.8 0 0 0 378.42 1377.42Z" fill="#fca36e"/>
<path d="M353.18 1426A191.9 191.9 0 0 1 307.88 1454.92L305.14 1448.92A185.3 185.3 0 0 0 348.89 1420.99Z" fill="#b98a9c"/>
<path d="M348.89 1420.99A185.3 185.3 0 0 1 305.14 1448.92L302.45 1443A178.8 178.8 0 0 0 344.66 1416.06Z" fill="#fc8d59"/>
<path d="M307.88 1454.92A191.9 191.9 0 0 1 302.66 1457.21L300.11 1451.12A185.3 185.3 0 0 0 305.14 1448.92Z" fill="#b5ddd5"/>
<path d="M305.14 1448.92A185.3 185.3 0 0 1 300.11 1451.12L297.59 1445.13A178.8 178.8 0 0 0 302.45 1443Z" fill="#fa8756"/>
<path d="M302.66 1457.21A191.9 191.9 0 0 1 264.26 1468.8L263.02 1462.32A185.3 185.3 0 0 0 300.11 1451.12Z" fill="#b2f4f7"/>
<path d="M300.11 1451.12A185.3 185.3 0 0 1 263.02 1462.32L261.8 1455.93A178.8 178.8 0 0 0 297.59 1445.13Z" fill="#d93422"/>
<path d="M264.26 1468.8A191.9 191.9 0 0 1 250.36 1470.93L249.6 1464.37A185.3 185.3 0 0 0 263.02 1462.32Z" fill="#b2f4f7"/>
<path d="M263.02 1462.32A185.3 185.3 0 0 1 249.6 1464.37L248.85 1457.92A178.8 178.8 0 0 0 261.8 1455.93Z" fill="#b10000"/>
<path d="M250.36 1470.93A191.9 191.9 0 0 1 228.3 1472.2L228.3 1465.6A185.3 185.3 0 0 0 249.6 1464.37Z" fill="#b2f4f7"/>
<path d="M249.6 1464.37A185.3 185.3 0 0 1 228.3 1465.6L228.3 1459.1A178.8 178.8 0 0 0 248.85 1457.92Z" fill="#900000"/>
<g stroke="#fff" stroke-width="0.4" stroke-opacity="0.45">
<path d="M228.3 1089.3A191 191 0 0 0 217.96 1089.58L218.62 1101.76A178.8 178.8 0 0 1 228.3 1101.5Z" fill="#fcf0b2"/>
<path d="M217.96 1089.58A191 191 0 0 0 207.65 1090.42L208.97 1102.55A178.8 178.8 0 0 1 218.62 1101.76Z" fill="#fde7a9"/>
<path d="M207.65 1090.42A191 191 0 0 0 197.4 1091.82L199.37 1103.86A178.8 178.8 0 0 1 208.97 1102.55Z" fill="#fde0a1"/>
<path d="M197.4 1091.82A191 191 0 0 0 187.24 1093.77L189.86 1105.68A178.8 178.8 0 0 1 199.37 1103.86Z" fill="#fed89a"/>
<path d="M187.24 1093.77A191 191 0 0 0 177.2 1096.26L180.47 1108.02A178.8 178.8 0 0 1 189.86 1105.68Z" fill="#fecf92"/>
<path d="M177.2 1096.26A191 191 0 0 0 167.31 1099.3L171.21 1110.86A178.8 178.8 0 0 1 180.47 1108.02Z" fill="#fec88c"/>
<path d="M167.31 1099.3A191 191 0 0 0 157.6 1102.87L162.12 1114.2A178.8 178.8 0 0 1 171.21 1110.86Z" fill="#fec185"/>
<path d="M157.6 1102.87A191 191 0 0 0 148.1 1106.95L153.22 1118.03A178.8 178.8 0 0 1 162.12 1114.2Z" fill="#feb77e"/>
<path d="M148.1 1106.95A191 191 0 0 0 138.83 1111.55L144.55 1122.33A178.8 178.8 0 0 1 153.22 1118.03Z" fill="#feb078"/>
<path d="M138.83 1111.55A191 191 0 0 0 129.83 1116.64L136.12 1127.09A178.8 178.8 0 0 1 144.55 1122.33Z" fill="#fea973"/>
<path d="M129.83 1116.64A191 191 0 0 0 121.11 1122.21L127.96 1132.31A178.8 178.8 0 0 1 136.12 1127.09Z" fill="#fe9f6d"/>
<path d="M121.11 1122.21A191 191 0 0 0 112.71 1128.25L120.09 1137.96A178.8 178.8 0 0 1 127.96 1132.31Z" fill="#fd9869"/>
<path d="M112.71 1128.25A191 191 0 0 0 104.65 1134.73L112.55 1144.03A178.8 178.8 0 0 1 120.09 1137.96Z" fill="#fc9065"/>
<path d="M104.65 1134.73A191 191 0 0 0 96.95 1141.63L105.34 1150.49A178.8 178.8 0 0 1 112.55 1144.03Z" fill="#fb8761"/>
<path d="M96.95 1141.63A191 191 0 0 0 89.63 1148.95L98.49 1157.34A178.8 178.8 0 0 1 105.34 1150.49Z" fill="#fa7f5e"/>
<path d="M89.63 1148.95A191 191 0 0 0 82.73 1156.65L92.03 1164.55A178.8 178.8 0 0 1 98.49 1157.34Z" fill="#f8765c"/>
<path d="M82.73 1156.65A191 191 0 0 0 76.25 1164.71L85.96 1172.09A178.8 178.8 0 0 1 92.03 1164.55Z" fill="#f66e5c"/>
<path d="M76.25 1164.71A191 191 0 0 0 70.21 1173.11L80.31 1179.96A178.8 178.8 0 0 1 85.96 1172.09Z" fill="#f4675c"/>
<path d="M70.21 1173.11A191 191 0 0 0 64.64 1181.83L75.09 1188.12A178.8 178.8 0 0 1 80.31 1179.96Z" fill="#f05f5e"/>
<path d="M64.64 1181.83A191 191 0 0 0 59.55 1190.83L70.33 1196.55A178.8 178.8 0 0 1 75.09 1188.12Z" fill="#ec5860"/>
<path d="M59.55 1190.83A191 191 0 0 0 54.95 1200.1L66.03 1205.22A178.8 178.8 0 0 1 70.33 1196.55Z" fill="#e85362"/>
<path d="M54.95 1200.1A191 191 0 0 0 50.87 1209.6L62.2 1214.12A178.8 178.8 0 0 1 66.03 1205.22Z" fill="#e24d66"/>
<path d="M50.87 1209.6A191 191 0 0 0 47.3 1219.31L58.86 1223.21A178.8 178.8 0 0 1 62.2 1214.12Z" fill="#dc4869"/>
<path d="M47.3 1219.31A191 191 0 0 0 44.26 1229.2L56.02 1232.47A178.8 178.8 0 0 1 58.86 1223.21Z" fill="#d6456c"/>
<path d="M44.26 1229.2A191 191 0 0 0 41.77 1239.24L53.68 1241.86A178.8 178.8 0 0 1 56.02 1232.47Z" fill="#cf4070"/>
<path d="M41.77 1239.24A191 191 0 0 0 39.82 1249.4L51.86 1251.37A178.8 178.8 0 0 1 53.68 1241.86Z" fill="#c83e73"/>
<path d="M39.82 1249.4A191 191 0 0 0 38.42 1259.65L50.55 1260.97A178.8 178.8 0 0 1 51.86 1251.37Z" fill="#c23b75"/>
<path d="M38.42 1259.65A191 191 0 0 0 37.58 1269.96L49.76 1270.62A178.8 178.8 0 0 1 50.55 1260.97Z" fill="#ba3878"/>
<path d="M37.58 1269.96A191 191 0 0 0 37.3 1280.3L49.5 1280.3A178.8 178.8 0 0 1 49.76 1270.62Z" fill="#b3367a"/>
<path d="M37.3 1280.3A191 191 0 0 0 37.58 1290.64L49.76 1289.98A178.8 178.8 0 0 1 49.5 1280.3Z" fill="#ab337c"/>
<path d="M37.58 1290.64A191 191 0 0 0 38.42 1300.95L50.55 1299.63A178.8 178.8 0 0 1 49.76 1289.98Z" fill="#a5317e"/>
<path d="M38.42 1300.95A191 191 0 0 0 39.82 1311.2L51.86 1309.23A178.8 178.8 0 0 1 50.55 1299.63Z" fill="#9e2f7f"/>
<path d="M39.82 1311.2A191 191 0 0 0 41.77 1321.36L53.68 1318.74A178.8 178.8 0 0 1 51.86 1309.23Z" fill="#962c80"/>
<path d="M41.77 1321.36A191 191 0 0 0 44.26 1331.4L56.02 1328.13A178.8 178.8 0 0 1 53.68 1318.74Z" fill="#902a81"/>
<path d="M44.26 1331.4A191 191 0 0 0 47.3 1341.29L58.86 1337.39A178.8 178.8 0 0 1 56.02 1328.13Z" fill="#892881"/>
<path d="M47.3 1341.29A191 191 0 0 0 50.87 1351L62.2 1346.48A178.8 178.8 0 0 1 58.86 1337.39Z" fill="#812581"/>
<path d="M50.87 1351A191 191 0 0 0 54.95 1360.5L66.03 1355.38A178.8 178.8 0 0 1 62.2 1346.48Z" fill="#7b2382"/>
<path d="M54.95 1360.5A191 191 0 0 0 59.55 1369.77L70.33 1364.05A178.8 178.8 0 0 1 66.03 1355.38Z" fill="#752181"/>
<path d="M59.55 1369.77A191 191 0 0 0 64.64 1378.77L75.09 1372.48A178.8 178.8 0 0 1 70.33 1364.05Z" fill="#6d1d81"/>
<path d="M64.64 1378.77A191 191 0 0 0 70.21 1387.49L80.31 1380.64A178.8 178.8 0 0 1 75.09 1372.48Z" fill="#671b80"/>
<path d="M70.21 1387.49A191 191 0 0 0 76.25 1395.89L85.96 1388.51A178.8 178.8 0 0 1 80.31 1380.64Z" fill="#601880"/>
<path d="M76.25 1395.89A191 191 0 0 0 82.73 1403.95L92.03 1396.05A178.8 178.8 0 0 1 85.96 1388.51Z" fill="#59157e"/>
<path d="M82.73 1403.95A191 191 0 0 0 89.63 1411.65L98.49 1403.26A178.8 178.8 0 0 1 92.03 1396.05Z" fill="#52137c"/>
<path d="M89.63 1411.65A191 191 0 0 0 96.95 1418.97L105.34 1410.11A178.8 178.8 0 0 1 98.49 1403.26Z" fill="#4a1079"/>
<path d="M96.95 1418.97A191 191 0 0 0 104.65 1425.87L112.55 1416.57A178.8 178.8 0 0 1 105.34 1410.11Z" fill="#440f76"/>
<path d="M104.65 1425.87A191 191 0 0 0 112.71 1432.35L120.09 1422.64A178.8 178.8 0 0 1 112.55 1416.57Z" fill="#3d0f71"/>
<path d="M112.71 1432.35A191 191 0 0 0 121.11 1438.39L127.96 1428.29A178.8 178.8 0 0 1 120.09 1422.64Z" fill="#341069"/>
<path d="M121.11 1438.39A191 191 0 0 0 129.83 1443.96L136.12 1433.51A178.8 178.8 0 0 1 127.96 1428.29Z" fill="#2d1161"/>
<path d="M129.83 1443.96A191 191 0 0 0 138.83 1449.05L144.55 1438.27A178.8 178.8 0 0 1 136.12 1433.51Z" fill="#271258"/>
<path d="M138.83 1449.05A191 191 0 0 0 148.1 1453.65L153.22 1442.57A178.8 178.8 0 0 1 144.55 1438.27Z" fill="#20114b"/>
<path d="M148.1 1453.65A191 191 0 0 0 157.6 1457.73L162.12 1446.4A178.8 178.8 0 0 1 153.22 1442.57Z" fill="#1a1042"/>
<path d="M157.6 1457.73A191 191 0 0 0 167.31 1461.3L171.21 1449.74A178.8 178.8 0 0 1 162.12 1446.4Z" fill="#150e38"/>
<path d="M167.31 1461.3A191 191 0 0 0 177.2 1464.34L180.47 1452.58A178.8 178.8 0 0 1 171.21 1449.74Z" fill="#100b2d"/>
<path d="M177.2 1464.34A191 191 0 0 0 187.24 1466.83L189.86 1454.92A178.8 178.8 0 0 1 180.47 1452.58Z" fill="#0b0924"/>
<path d="M187.24 1466.83A191 191 0 0 0 197.4 1468.78L199.37 1456.74A178.8 178.8 0 0 1 189.86 1454.92Z" fill="#07061c"/>
<path d="M197.4 1468.78A191 191 0 0 0 207.65 1470.18L208.97 1458.05A178.8 178.8 0 0 1 199.37 1456.74Z" fill="#030312"/>
<path d="M207.65 1470.18A191 191 0 0 0 217.96 1471.02L218.62 1458.84A178.8 178.8 0 0 1 208.97 1458.05Z" fill="#020109"/>
<path d="M217.96 1471.02A191 191 0 0 0 228.3 1471.3L228.3 1459.1A178.8 178.8 0 0 1 218.62 1458.84Z" fill="#000004"/>
</g>
<path d="M228.3 1101.5A178.8 178.8 0 0 0 228.3 1459.1" fill="none" stroke="#fff" stroke-width="0.9"/>
<g font-family='"Liberation Serif", serif' font-size="7.5" text-anchor="end" fill="#1a1a1a" stroke="#1a1a1a" stroke-width="0.22">
<text transform="translate(223.09 1087.97) rotate(88.45)" dy="0.32em">CXCL9</text>
<text transform="translate(212.69 1088.53) rotate(85.34)" dy="0.32em">CXCL11</text>
<text transform="translate(202.33 1089.66) rotate(82.24)" dy="0.32em">CXCL13</text>
<text transform="translate(192.04 1091.35) rotate(79.14)" dy="0.32em">CXCL10</text>
<text transform="translate(181.87 1093.59) rotate(76.03)" dy="0.32em">CXCL14</text>
<text transform="translate(171.83 1096.37) rotate(72.93)" dy="0.32em">CCL4</text>
<text transform="translate(161.95 1099.7) rotate(69.83)" dy="0.32em">CCL18</text>
<text transform="translate(152.27 1103.56) rotate(66.72)" dy="0.32em">KIF18B</text>
<text transform="translate(142.81 1107.93) rotate(63.62)" dy="0.32em">KIF11</text>
<text transform="translate(133.61 1112.82) rotate(60.52)" dy="0.32em">KIF18A</text>
<text transform="translate(124.68 1118.19) rotate(57.41)" dy="0.32em">S100A8</text>
<text transform="translate(116.05 1124.03) rotate(54.31)" dy="0.32em">S100A9</text>
<text transform="translate(107.76 1130.34) rotate(51.21)" dy="0.32em">NDP</text>
<text transform="translate(99.82 1137.09) rotate(48.1)" dy="0.32em">ADIPOQ</text>
<text transform="translate(92.25 1144.25) rotate(45)" dy="0.32em">KIF4A</text>
<text transform="translate(85.09 1151.82) rotate(41.9)" dy="0.32em">KIF20A</text>
<text transform="translate(78.34 1159.76) rotate(38.79)" dy="0.32em">KIFC1</text>
<text transform="translate(72.03 1168.05) rotate(35.69)" dy="0.32em">CENPE</text>
<text transform="translate(66.19 1176.68) rotate(32.59)" dy="0.32em">KIF23</text>
<text transform="translate(60.82 1185.61) rotate(29.48)" dy="0.32em">BMP4</text>
<text transform="translate(55.93 1194.81) rotate(26.38)" dy="0.32em">OGN</text>
<text transform="translate(51.56 1204.27) rotate(23.28)" dy="0.32em">MAPT</text>
<text transform="translate(47.7 1213.95) rotate(20.17)" dy="0.32em">STC2</text>
<text transform="translate(44.37 1223.83) rotate(17.07)" dy="0.32em">GRP</text>
<text transform="translate(41.59 1233.87) rotate(13.97)" dy="0.32em">NRTN</text>
<text transform="translate(39.35 1244.04) rotate(10.86)" dy="0.32em">AURKA</text>
<text transform="translate(37.66 1254.33) rotate(7.76)" dy="0.32em">AURKB</text>
<text transform="translate(36.53 1264.69) rotate(4.66)" dy="0.32em">CCDC170</text>
<text transform="translate(35.97 1275.09) rotate(1.55)" dy="0.32em">PRC1</text>
<text transform="translate(35.97 1285.51) rotate(-1.55)" dy="0.32em">BIRC5</text>
<text transform="translate(36.53 1295.91) rotate(-4.66)" dy="0.32em">TPX2</text>
<text transform="translate(37.66 1306.27) rotate(-7.76)" dy="0.32em">NUSAP1</text>
<text transform="translate(39.35 1316.56) rotate(-10.86)" dy="0.32em">SKA1</text>
<text transform="translate(41.59 1326.73) rotate(-13.97)" dy="0.32em">DLGAP5</text>
<text transform="translate(44.37 1336.77) rotate(-17.07)" dy="0.32em">CRY2</text>
<text transform="translate(47.7 1346.65) rotate(-20.17)" dy="0.32em">MCM5</text>
<text transform="translate(51.56 1356.33) rotate(-23.28)" dy="0.32em">RAD51AP1</text>
<text transform="translate(55.93 1365.79) rotate(-26.38)" dy="0.32em">MCM10</text>
<text transform="translate(60.82 1374.99) rotate(-29.48)" dy="0.32em">CDC45</text>
<text transform="translate(66.19 1383.92) rotate(-32.59)" dy="0.32em">TTK</text>
<text transform="translate(72.03 1392.55) rotate(-35.69)" dy="0.32em">PBK</text>
<text transform="translate(78.34 1400.84) rotate(-38.79)" dy="0.32em">MARCO</text>
<text transform="translate(85.09 1408.78) rotate(-41.9)" dy="0.32em">NMU</text>
<text transform="translate(92.25 1416.35) rotate(-45)" dy="0.32em">FABP4</text>
<text transform="translate(99.82 1423.51) rotate(-48.1)" dy="0.32em">MFAP4</text>
<text transform="translate(107.76 1430.26) rotate(-51.21)" dy="0.32em">ASPN</text>
<text transform="translate(116.05 1436.57) rotate(-54.31)" dy="0.32em">MATN3</text>
<text transform="translate(124.68 1442.41) rotate(-57.41)" dy="0.32em">CILP</text>
<text transform="translate(133.61 1447.78) rotate(-60.52)" dy="0.32em">COL17A1</text>
<text transform="translate(142.81 1452.67) rotate(-63.62)" dy="0.32em">COMP</text>
<text transform="translate(152.27 1457.04) rotate(-66.72)" dy="0.32em">COL16A1</text>
<text transform="translate(161.95 1460.9) rotate(-69.83)" dy="0.32em">S100P</text>
<text transform="translate(171.83 1464.23) rotate(-72.93)" dy="0.32em">S100A7</text>
<text transform="translate(181.87 1467.01) rotate(-76.03)" dy="0.32em">DNALI1</text>
<text transform="translate(192.04 1469.25) rotate(-79.14)" dy="0.32em">MYH11</text>
<text transform="translate(202.33 1470.94) rotate(-82.24)" dy="0.32em">CCNB1</text>
<text transform="translate(212.69 1472.07) rotate(-85.34)" dy="0.32em">CHEK1</text>
<text transform="translate(223.09 1472.63) rotate(-88.45)" dy="0.32em">CDK1</text>
</g>
<defs><linearGradient id="gc" x1="0" x2="1" y1="0" y2="0"><stop offset="0%" stop-color="#fff7ec"/><stop offset="12%" stop-color="#fee8c8"/><stop offset="25%" stop-color="#fdd49e"/><stop offset="37%" stop-color="#fdbb84"/><stop offset="50%" stop-color="#fc8d59"/><stop offset="62%" stop-color="#ef6548"/><stop offset="75%" stop-color="#d7301f"/><stop offset="87%" stop-color="#b30000"/><stop offset="100%" stop-color="#7f0000"/></linearGradient></defs>
<rect x="427" y="1097.8" width="90.7" height="14.5" fill="url(#gc)"/>
<g font-family='"Liberation Serif", serif' fill="#222" stroke="#222" stroke-width="0.15">
<text x="471.5" y="1096" font-size="7.6" text-anchor="middle">pvalue</text>
<path d="M427.4 1112.8V1116.8" stroke="#222" stroke-width="0.7"/>
<path d="M440 1112.8V1116.8" stroke="#222" stroke-width="0.7"/>
<path d="M455 1112.8V1116.8" stroke="#222" stroke-width="0.7"/>
<path d="M470 1112.8V1116.8" stroke="#222" stroke-width="0.7"/>
<path d="M485 1112.8V1116.8" stroke="#222" stroke-width="0.7"/>
<path d="M500 1112.8V1116.8" stroke="#222" stroke-width="0.7"/>
<path d="M516.6 1112.8V1116.8" stroke="#222" stroke-width="0.7"/>
<text x="440" y="1122.8" font-size="7.2" text-anchor="middle">0.0002</text>
<text x="455" y="1122.8" font-size="7.2" text-anchor="middle">0.0004</text>
<text x="470" y="1122.8" font-size="7.2" text-anchor="middle">0.0006</text>
<text x="485" y="1122.8" font-size="7.2" text-anchor="middle">0.0008</text>
<text x="500" y="1122.8" font-size="7.2" text-anchor="middle">0.0010</text>
<text x="515" y="1122.8" font-size="7.2" text-anchor="middle">0.0012</text>
<text x="427.5" y="1136.3" font-size="7.7">Pathway</text>
<circle cx="430.5" cy="1143.3" r="3.9" fill="#0b4a8f" stroke="none"/>
<text x="436" y="1145.62" font-size="7.72">microtubule binding</text>
<circle cx="430.5" cy="1151.69" r="3.9" fill="#6b2559" stroke="none"/>
<text x="436" y="1154.01" font-size="7.72">tubulin binding</text>
<circle cx="430.5" cy="1160.08" r="3.9" fill="#d8121f" stroke="none"/>
<text x="436" y="1162.4" font-size="7.72">CXCR3 chemokine receptor binding</text>
<circle cx="430.5" cy="1168.47" r="3.9" fill="#b8542a" stroke="none"/>
<text x="436" y="1170.79" font-size="7.72">histone kinase activity</text>
<circle cx="430.5" cy="1176.86" r="3.9" fill="#7a9a38" stroke="none"/>
<text x="436" y="1179.18" font-size="7.72">chemokine activity</text>
<circle cx="430.5" cy="1185.25" r="3.9" fill="#3aa85a" stroke="none"/>
<text x="436" y="1187.57" font-size="7.72">motor activity</text>
<circle cx="430.5" cy="1193.64" r="3.9" fill="#26a08a" stroke="none"/>
<text x="436" y="1195.96" font-size="7.72">microtubule motor activity</text>
<circle cx="430.5" cy="1202.03" r="3.9" fill="#2a8cb4" stroke="none"/>
<text x="436" y="1204.35" font-size="7.72">RAGE receptor binding</text>
<circle cx="430.5" cy="1210.42" r="3.9" fill="#5a80b8" stroke="none"/>
<text x="436" y="1212.74" font-size="7.72">chemokine receptor binding</text>
<circle cx="430.5" cy="1218.81" r="3.9" fill="#a063b2" stroke="none"/>
<text x="436" y="1221.13" font-size="7.72">CXCR chemokine receptor binding</text>
<circle cx="430.5" cy="1227.2" r="3.9" fill="#c98aa3" stroke="none"/>
<text x="436" y="1229.52" font-size="7.72">extracellular matrix structural constituent</text>
<circle cx="430.5" cy="1235.59" r="3.9" fill="#f6a892" stroke="none"/>
<text x="436" y="1237.91" font-size="7.72">cytokine activity</text>
<circle cx="430.5" cy="1243.98" r="3.9" fill="#e27272" stroke="none"/>
<text x="436" y="1246.3" font-size="7.72">long-chain fatty acid binding</text>
<circle cx="430.5" cy="1252.37" r="3.9" fill="#c8213c" stroke="none"/>
<text x="436" y="1254.69" font-size="7.72">ATP-dependent microtubule motor activity, plus-end-directed</text>
<circle cx="430.5" cy="1260.76" r="3.9" fill="#b8375c" stroke="none"/>
<text x="436" y="1263.08" font-size="7.72">receptor ligand activity</text>
<circle cx="430.5" cy="1269.15" r="3.9" fill="#b98a9c" stroke="none"/>
<text x="436" y="1271.47" font-size="7.72">signaling receptor activator activity</text>
<circle cx="430.5" cy="1277.54" r="3.9" fill="#b5ddd5" stroke="none"/>
<text x="436" y="1279.86" font-size="7.72">Toll-like receptor 4 binding</text>
<circle cx="430.5" cy="1285.93" r="3.9" fill="#b2f4f7" stroke="none"/>
<text x="436" y="1288.25" font-size="7.72">G protein-coupled receptor binding</text>
<circle cx="430.5" cy="1294.32" r="3.9" fill="#b2f4f7" stroke="none"/>
<text x="436" y="1296.64" font-size="7.72">protein serine/threonine/tyrosine kinase activity</text>
<circle cx="430.5" cy="1302.71" r="3.9" fill="#b2f4f7" stroke="none"/>
<text x="436" y="1305.03" font-size="7.72">single-stranded DNA binding</text>
</g>
</g>
<text x="3.6" y="25.2" font-family='"Liberation Serif", serif' font-weight="bold" font-size="24.5" fill="#111">(a)</text>
<text x="4.8" y="597.6" font-family='"Liberation Serif", serif' font-weight="bold" font-size="24.5" fill="#111">(b)</text>
<text x="5.9" y="1082.4" font-family='"Liberation Serif", serif' font-weight="bold" font-size="24.5" fill="#111">(c)</text>
</g>
</svg></body></html>
